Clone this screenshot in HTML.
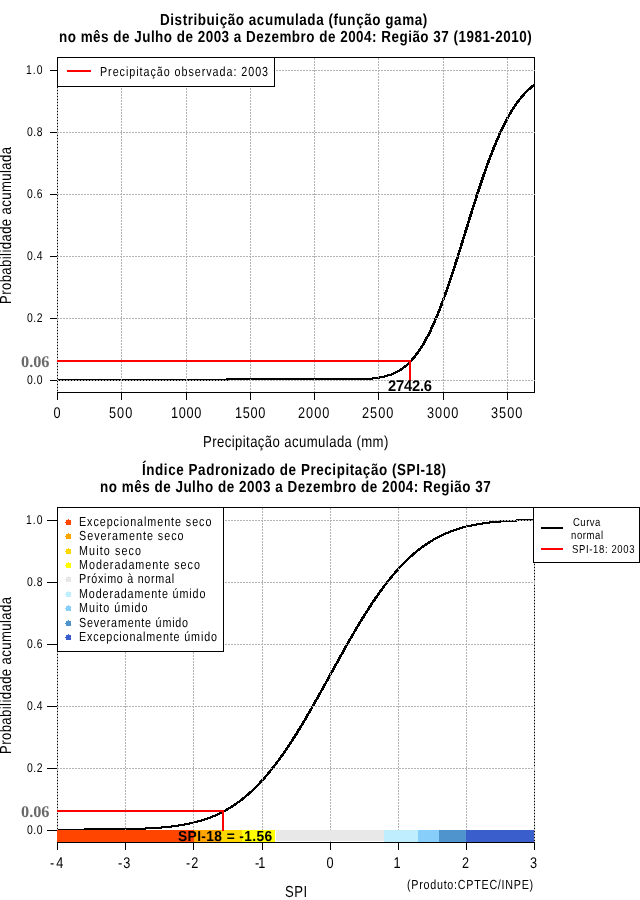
<!DOCTYPE html>
<html><head><meta charset="utf-8"><title>SPI</title>
<style>
html,body{margin:0;padding:0;background:#fff;width:640px;height:900px;overflow:hidden}
svg{display:block;will-change:transform}
text{font-family:"Liberation Sans",Arial,Helvetica,sans-serif;text-rendering:geometricPrecision}
rect,path{shape-rendering:crispEdges}
polyline{shape-rendering:crispEdges}
</style></head><body>
<svg width="640" height="900" viewBox="0 0 640 900">
<text transform="translate(160.00,25) scale(0.84,1)" font-size="16" font-weight="bold" letter-spacing="0.680">Distribuição acumulada (função gama)</text>
<text transform="translate(59.00,42) scale(0.84,1)" font-size="16" font-weight="bold" letter-spacing="0.595">no mês de Julho de 2003 a Dezembro de 2004: Região 37 (1981-2010)</text>
<polyline points="57,380.0 227,380.0 227,379.0 364,379.0 365,379.0 366,378.9 367,378.9 368,378.8 369,378.7 370,378.6 371,378.6 372,378.5 373,378.4 374,378.3 375,378.1 376,378.0 377,377.9 378,377.7 379,377.6 380,377.4 381,377.2 382,377.0 383,376.8 384,376.5 385,376.3 386,376.0 387,375.7 388,375.4 389,375.1 390,374.8 391,374.4 392,374.0 393,373.6 394,373.1 395,372.7 396,372.2 397,371.6 398,371.1 399,370.5 400,369.9 401,369.2 402,368.5 403,367.8 404,367.0 405,366.2 406,365.4 407,364.5 408,363.6 409,362.6 410,361.6 411,360.5 412,359.4 413,358.3 414,357.1 415,355.8 416,354.5 417,353.2 418,351.8 419,350.4 420,348.8 421,347.3 422,345.7 423,344.0 424,342.3 425,340.5 426,338.7 427,336.8 428,334.9 429,332.9 430,330.9 431,328.8 432,326.6 433,324.4 434,322.1 435,319.8 436,317.5 437,315.0 438,312.6 439,310.1 440,307.5 441,304.9 442,302.2 443,299.5 444,296.8 445,294.0 446,291.2 447,288.3 448,285.4 449,282.5 450,279.5 451,276.5 452,273.5 453,270.4 454,267.3 455,264.2 456,261.1 457,257.9 458,254.7 459,251.6 460,248.4 461,245.1 462,241.9 463,238.7 464,235.5 465,232.2 466,229.0 467,225.8 468,222.5 469,219.3 470,216.1 471,212.9 472,209.7 473,206.5 474,203.4 475,200.3 476,197.1 477,194.0 478,191.0 479,187.9 480,184.9 481,181.9 482,179.0 483,176.1 484,173.2 485,170.3 486,167.5 487,164.7 488,162.0 489,159.3 490,156.6 491,154.0 492,151.5 493,148.9 494,146.5 495,144.0 496,141.6 497,139.3 498,137.0 499,134.8 500,132.6 501,130.4 502,128.3 503,126.3 504,124.3 505,122.3 506,120.4 507,118.5 508,116.7 509,114.9 510,113.2 511,111.6 512,109.9 513,108.4 514,106.8 515,105.3 516,103.9 517,102.5 518,101.1 519,99.8 520,98.6 521,97.3 522,96.1 523,95.0 524,93.9 525,92.8 526,91.8 527,90.8 528,89.8 529,88.9 530,88.0 531,87.1 532,86.3 533,85.5 534,84.8" fill="none" stroke="#000" stroke-width="2" stroke-linejoin="round"/>
<polyline points="300.7,379.0 364.7,379.0 365.7,379.0 366.7,378.9 367.7,378.9 368.7,378.8 369.7,378.7 370.7,378.6 371.7,378.6 372.7,378.5 373.7,378.4 374.7,378.3 375.7,378.1 376.7,378.0 377.7,377.9 378.7,377.7 379.7,377.6 380.7,377.4 381.7,377.2 382.7,377.0 383.7,376.8 384.7,376.5 385.7,376.3 386.7,376.0 387.7,375.7 388.7,375.4 389.7,375.1 390.7,374.8 391.7,374.4 392.7,374.0 393.7,373.6 394.7,373.1 395.7,372.7 396.7,372.2 397.7,371.6 398.7,371.1 399.7,370.5 400.7,369.9 401.7,369.2 402.7,368.5 403.7,367.8 404.7,367.0 405.7,366.2 406.7,365.4 407.7,364.5 408.7,363.6 409.7,362.6 410.7,361.6 411.7,360.5 412.7,359.4 413.7,358.3 414.7,357.1 415.7,355.8 416.7,354.5 417.7,353.2 418.7,351.8 419.7,350.4 420.7,348.8 421.7,347.3 422.7,345.7 423.7,344.0 424.7,342.3 425.7,340.5 426.7,338.7 427.7,336.8 428.7,334.9 429.7,332.9 430.7,330.9 431.7,328.8 432.7,326.6 433.7,324.4 434.7,322.1 435.7,319.8 436.7,317.5 437.7,315.0 438.7,312.6 439.7,310.1 440.7,307.5 441.7,304.9 442.7,302.2 443.7,299.5 444.7,296.8 445.7,294.0 446.7,291.2 447.7,288.3 448.7,285.4 449.7,282.5 450.7,279.5 451.7,276.5 452.7,273.5 453.7,270.4 454.7,267.3 455.7,264.2 456.7,261.1 457.7,257.9 458.7,254.7 459.7,251.6 460.7,248.4 461.7,245.1 462.7,241.9 463.7,238.7 464.7,235.5 465.7,232.2 466.7,229.0 467.7,225.8 468.7,222.5 469.7,219.3 470.7,216.1 471.7,212.9 472.7,209.7 473.7,206.5 474.7,203.4 475.7,200.3 476.7,197.1 477.7,194.0 478.7,191.0 479.7,187.9 480.7,184.9 481.7,181.9 482.7,179.0 483.7,176.1 484.7,173.2 485.7,170.3 486.7,167.5 487.7,164.7 488.7,162.0 489.7,159.3 490.7,156.6 491.7,154.0 492.7,151.5 493.7,148.9 494.7,146.5 495.7,144.0 496.7,141.6 497.7,139.3 498.7,137.0 499.7,134.8 500.7,132.6 501.7,130.4 502.7,128.3 503.7,126.3 504.7,124.3 505.7,122.3 506.7,120.4 507.7,118.5 508.7,116.7 509.7,114.9 510.7,113.2 511.7,111.6 512.7,109.9 513.7,108.4 514.7,106.8 515.7,105.3 516.7,103.9 517.7,102.5 518.7,101.1 519.7,99.8 520.7,98.6 521.7,97.3 522.7,96.1 523.7,95.0 524.7,93.9 525.7,92.8 526.7,91.8 527.7,90.8 528.7,89.8 529.7,88.9 530.7,88.0 531.7,87.1 532.7,86.3 533.7,85.5 534,84.8" fill="none" stroke="#000" stroke-width="2" stroke-linejoin="round"/>
<rect x="57" y="57" width="478" height="1" fill="#000"/>
<rect x="57" y="392" width="478" height="1" fill="#000"/>
<rect x="57" y="57" width="1" height="336" fill="#000"/>
<rect x="534" y="57" width="1" height="336" fill="#000"/>
<path d="M57 380h2v1h-2zM60 380h2v1h-2zM63 380h2v1h-2zM66 380h2v1h-2zM69 380h2v1h-2zM72 380h2v1h-2zM75 380h2v1h-2zM78 380h2v1h-2zM81 380h2v1h-2zM84 380h2v1h-2zM87 380h2v1h-2zM90 380h2v1h-2zM93 380h2v1h-2zM96 380h2v1h-2zM99 380h2v1h-2zM102 380h2v1h-2zM105 380h2v1h-2zM108 380h2v1h-2zM111 380h2v1h-2zM114 380h2v1h-2zM117 380h2v1h-2zM120 380h2v1h-2zM123 380h2v1h-2zM126 380h2v1h-2zM129 380h2v1h-2zM132 380h2v1h-2zM135 380h2v1h-2zM138 380h2v1h-2zM141 380h2v1h-2zM144 380h2v1h-2zM147 380h2v1h-2zM150 380h2v1h-2zM153 380h2v1h-2zM156 380h2v1h-2zM159 380h2v1h-2zM162 380h2v1h-2zM165 380h2v1h-2zM168 380h2v1h-2zM171 380h2v1h-2zM174 380h2v1h-2zM177 380h2v1h-2zM180 380h2v1h-2zM183 380h2v1h-2zM186 380h2v1h-2zM189 380h2v1h-2zM192 380h2v1h-2zM195 380h2v1h-2zM198 380h2v1h-2zM201 380h2v1h-2zM204 380h2v1h-2zM207 380h2v1h-2zM210 380h2v1h-2zM213 380h2v1h-2zM216 380h2v1h-2zM219 380h2v1h-2zM222 380h2v1h-2zM225 380h2v1h-2zM228 380h2v1h-2zM231 380h2v1h-2zM234 380h2v1h-2zM237 380h2v1h-2zM240 380h2v1h-2zM243 380h2v1h-2zM246 380h2v1h-2zM249 380h2v1h-2zM252 380h2v1h-2zM255 380h2v1h-2zM258 380h2v1h-2zM261 380h2v1h-2zM264 380h2v1h-2zM267 380h2v1h-2zM270 380h2v1h-2zM273 380h2v1h-2zM276 380h2v1h-2zM279 380h2v1h-2zM282 380h2v1h-2zM285 380h2v1h-2zM288 380h2v1h-2zM291 380h2v1h-2zM294 380h2v1h-2zM297 380h2v1h-2zM300 380h2v1h-2zM303 380h2v1h-2zM306 380h2v1h-2zM309 380h2v1h-2zM312 380h2v1h-2zM315 380h2v1h-2zM318 380h2v1h-2zM321 380h2v1h-2zM324 380h2v1h-2zM327 380h2v1h-2zM330 380h2v1h-2zM333 380h2v1h-2zM336 380h2v1h-2zM339 380h2v1h-2zM342 380h2v1h-2zM345 380h2v1h-2zM348 380h2v1h-2zM351 380h2v1h-2zM354 380h2v1h-2zM357 380h2v1h-2zM360 380h2v1h-2zM363 380h2v1h-2zM366 380h2v1h-2zM369 380h2v1h-2zM372 380h2v1h-2zM375 380h2v1h-2zM378 380h2v1h-2zM381 380h2v1h-2zM384 380h2v1h-2zM387 380h2v1h-2zM390 380h2v1h-2zM393 380h2v1h-2zM396 380h2v1h-2zM399 380h2v1h-2zM402 380h2v1h-2zM405 380h2v1h-2zM408 380h2v1h-2zM411 380h2v1h-2zM414 380h2v1h-2zM417 380h2v1h-2zM420 380h2v1h-2zM423 380h2v1h-2zM426 380h2v1h-2zM429 380h2v1h-2zM432 380h2v1h-2zM435 380h2v1h-2zM438 380h2v1h-2zM441 380h2v1h-2zM444 380h2v1h-2zM447 380h2v1h-2zM450 380h2v1h-2zM453 380h2v1h-2zM456 380h2v1h-2zM459 380h2v1h-2zM462 380h2v1h-2zM465 380h2v1h-2zM468 380h2v1h-2zM471 380h2v1h-2zM474 380h2v1h-2zM477 380h2v1h-2zM480 380h2v1h-2zM483 380h2v1h-2zM486 380h2v1h-2zM489 380h2v1h-2zM492 380h2v1h-2zM495 380h2v1h-2zM498 380h2v1h-2zM501 380h2v1h-2zM504 380h2v1h-2zM507 380h2v1h-2zM510 380h2v1h-2zM513 380h2v1h-2zM516 380h2v1h-2zM519 380h2v1h-2zM522 380h2v1h-2zM525 380h2v1h-2zM528 380h2v1h-2zM531 380h2v1h-2zM534 380h1v1h-1z" fill="#b3b3b3"/>
<path d="M57 318h2v1h-2zM60 318h2v1h-2zM63 318h2v1h-2zM66 318h2v1h-2zM69 318h2v1h-2zM72 318h2v1h-2zM75 318h2v1h-2zM78 318h2v1h-2zM81 318h2v1h-2zM84 318h2v1h-2zM87 318h2v1h-2zM90 318h2v1h-2zM93 318h2v1h-2zM96 318h2v1h-2zM99 318h2v1h-2zM102 318h2v1h-2zM105 318h2v1h-2zM108 318h2v1h-2zM111 318h2v1h-2zM114 318h2v1h-2zM117 318h2v1h-2zM120 318h2v1h-2zM123 318h2v1h-2zM126 318h2v1h-2zM129 318h2v1h-2zM132 318h2v1h-2zM135 318h2v1h-2zM138 318h2v1h-2zM141 318h2v1h-2zM144 318h2v1h-2zM147 318h2v1h-2zM150 318h2v1h-2zM153 318h2v1h-2zM156 318h2v1h-2zM159 318h2v1h-2zM162 318h2v1h-2zM165 318h2v1h-2zM168 318h2v1h-2zM171 318h2v1h-2zM174 318h2v1h-2zM177 318h2v1h-2zM180 318h2v1h-2zM183 318h2v1h-2zM186 318h2v1h-2zM189 318h2v1h-2zM192 318h2v1h-2zM195 318h2v1h-2zM198 318h2v1h-2zM201 318h2v1h-2zM204 318h2v1h-2zM207 318h2v1h-2zM210 318h2v1h-2zM213 318h2v1h-2zM216 318h2v1h-2zM219 318h2v1h-2zM222 318h2v1h-2zM225 318h2v1h-2zM228 318h2v1h-2zM231 318h2v1h-2zM234 318h2v1h-2zM237 318h2v1h-2zM240 318h2v1h-2zM243 318h2v1h-2zM246 318h2v1h-2zM249 318h2v1h-2zM252 318h2v1h-2zM255 318h2v1h-2zM258 318h2v1h-2zM261 318h2v1h-2zM264 318h2v1h-2zM267 318h2v1h-2zM270 318h2v1h-2zM273 318h2v1h-2zM276 318h2v1h-2zM279 318h2v1h-2zM282 318h2v1h-2zM285 318h2v1h-2zM288 318h2v1h-2zM291 318h2v1h-2zM294 318h2v1h-2zM297 318h2v1h-2zM300 318h2v1h-2zM303 318h2v1h-2zM306 318h2v1h-2zM309 318h2v1h-2zM312 318h2v1h-2zM315 318h2v1h-2zM318 318h2v1h-2zM321 318h2v1h-2zM324 318h2v1h-2zM327 318h2v1h-2zM330 318h2v1h-2zM333 318h2v1h-2zM336 318h2v1h-2zM339 318h2v1h-2zM342 318h2v1h-2zM345 318h2v1h-2zM348 318h2v1h-2zM351 318h2v1h-2zM354 318h2v1h-2zM357 318h2v1h-2zM360 318h2v1h-2zM363 318h2v1h-2zM366 318h2v1h-2zM369 318h2v1h-2zM372 318h2v1h-2zM375 318h2v1h-2zM378 318h2v1h-2zM381 318h2v1h-2zM384 318h2v1h-2zM387 318h2v1h-2zM390 318h2v1h-2zM393 318h2v1h-2zM396 318h2v1h-2zM399 318h2v1h-2zM402 318h2v1h-2zM405 318h2v1h-2zM408 318h2v1h-2zM411 318h2v1h-2zM414 318h2v1h-2zM417 318h2v1h-2zM420 318h2v1h-2zM423 318h2v1h-2zM426 318h2v1h-2zM429 318h2v1h-2zM432 318h2v1h-2zM435 318h2v1h-2zM438 318h2v1h-2zM441 318h2v1h-2zM444 318h2v1h-2zM447 318h2v1h-2zM450 318h2v1h-2zM453 318h2v1h-2zM456 318h2v1h-2zM459 318h2v1h-2zM462 318h2v1h-2zM465 318h2v1h-2zM468 318h2v1h-2zM471 318h2v1h-2zM474 318h2v1h-2zM477 318h2v1h-2zM480 318h2v1h-2zM483 318h2v1h-2zM486 318h2v1h-2zM489 318h2v1h-2zM492 318h2v1h-2zM495 318h2v1h-2zM498 318h2v1h-2zM501 318h2v1h-2zM504 318h2v1h-2zM507 318h2v1h-2zM510 318h2v1h-2zM513 318h2v1h-2zM516 318h2v1h-2zM519 318h2v1h-2zM522 318h2v1h-2zM525 318h2v1h-2zM528 318h2v1h-2zM531 318h2v1h-2zM534 318h1v1h-1z" fill="#b3b3b3"/>
<path d="M57 256h2v1h-2zM60 256h2v1h-2zM63 256h2v1h-2zM66 256h2v1h-2zM69 256h2v1h-2zM72 256h2v1h-2zM75 256h2v1h-2zM78 256h2v1h-2zM81 256h2v1h-2zM84 256h2v1h-2zM87 256h2v1h-2zM90 256h2v1h-2zM93 256h2v1h-2zM96 256h2v1h-2zM99 256h2v1h-2zM102 256h2v1h-2zM105 256h2v1h-2zM108 256h2v1h-2zM111 256h2v1h-2zM114 256h2v1h-2zM117 256h2v1h-2zM120 256h2v1h-2zM123 256h2v1h-2zM126 256h2v1h-2zM129 256h2v1h-2zM132 256h2v1h-2zM135 256h2v1h-2zM138 256h2v1h-2zM141 256h2v1h-2zM144 256h2v1h-2zM147 256h2v1h-2zM150 256h2v1h-2zM153 256h2v1h-2zM156 256h2v1h-2zM159 256h2v1h-2zM162 256h2v1h-2zM165 256h2v1h-2zM168 256h2v1h-2zM171 256h2v1h-2zM174 256h2v1h-2zM177 256h2v1h-2zM180 256h2v1h-2zM183 256h2v1h-2zM186 256h2v1h-2zM189 256h2v1h-2zM192 256h2v1h-2zM195 256h2v1h-2zM198 256h2v1h-2zM201 256h2v1h-2zM204 256h2v1h-2zM207 256h2v1h-2zM210 256h2v1h-2zM213 256h2v1h-2zM216 256h2v1h-2zM219 256h2v1h-2zM222 256h2v1h-2zM225 256h2v1h-2zM228 256h2v1h-2zM231 256h2v1h-2zM234 256h2v1h-2zM237 256h2v1h-2zM240 256h2v1h-2zM243 256h2v1h-2zM246 256h2v1h-2zM249 256h2v1h-2zM252 256h2v1h-2zM255 256h2v1h-2zM258 256h2v1h-2zM261 256h2v1h-2zM264 256h2v1h-2zM267 256h2v1h-2zM270 256h2v1h-2zM273 256h2v1h-2zM276 256h2v1h-2zM279 256h2v1h-2zM282 256h2v1h-2zM285 256h2v1h-2zM288 256h2v1h-2zM291 256h2v1h-2zM294 256h2v1h-2zM297 256h2v1h-2zM300 256h2v1h-2zM303 256h2v1h-2zM306 256h2v1h-2zM309 256h2v1h-2zM312 256h2v1h-2zM315 256h2v1h-2zM318 256h2v1h-2zM321 256h2v1h-2zM324 256h2v1h-2zM327 256h2v1h-2zM330 256h2v1h-2zM333 256h2v1h-2zM336 256h2v1h-2zM339 256h2v1h-2zM342 256h2v1h-2zM345 256h2v1h-2zM348 256h2v1h-2zM351 256h2v1h-2zM354 256h2v1h-2zM357 256h2v1h-2zM360 256h2v1h-2zM363 256h2v1h-2zM366 256h2v1h-2zM369 256h2v1h-2zM372 256h2v1h-2zM375 256h2v1h-2zM378 256h2v1h-2zM381 256h2v1h-2zM384 256h2v1h-2zM387 256h2v1h-2zM390 256h2v1h-2zM393 256h2v1h-2zM396 256h2v1h-2zM399 256h2v1h-2zM402 256h2v1h-2zM405 256h2v1h-2zM408 256h2v1h-2zM411 256h2v1h-2zM414 256h2v1h-2zM417 256h2v1h-2zM420 256h2v1h-2zM423 256h2v1h-2zM426 256h2v1h-2zM429 256h2v1h-2zM432 256h2v1h-2zM435 256h2v1h-2zM438 256h2v1h-2zM441 256h2v1h-2zM444 256h2v1h-2zM447 256h2v1h-2zM450 256h2v1h-2zM453 256h2v1h-2zM456 256h2v1h-2zM459 256h2v1h-2zM462 256h2v1h-2zM465 256h2v1h-2zM468 256h2v1h-2zM471 256h2v1h-2zM474 256h2v1h-2zM477 256h2v1h-2zM480 256h2v1h-2zM483 256h2v1h-2zM486 256h2v1h-2zM489 256h2v1h-2zM492 256h2v1h-2zM495 256h2v1h-2zM498 256h2v1h-2zM501 256h2v1h-2zM504 256h2v1h-2zM507 256h2v1h-2zM510 256h2v1h-2zM513 256h2v1h-2zM516 256h2v1h-2zM519 256h2v1h-2zM522 256h2v1h-2zM525 256h2v1h-2zM528 256h2v1h-2zM531 256h2v1h-2zM534 256h1v1h-1z" fill="#b3b3b3"/>
<path d="M57 194h2v1h-2zM60 194h2v1h-2zM63 194h2v1h-2zM66 194h2v1h-2zM69 194h2v1h-2zM72 194h2v1h-2zM75 194h2v1h-2zM78 194h2v1h-2zM81 194h2v1h-2zM84 194h2v1h-2zM87 194h2v1h-2zM90 194h2v1h-2zM93 194h2v1h-2zM96 194h2v1h-2zM99 194h2v1h-2zM102 194h2v1h-2zM105 194h2v1h-2zM108 194h2v1h-2zM111 194h2v1h-2zM114 194h2v1h-2zM117 194h2v1h-2zM120 194h2v1h-2zM123 194h2v1h-2zM126 194h2v1h-2zM129 194h2v1h-2zM132 194h2v1h-2zM135 194h2v1h-2zM138 194h2v1h-2zM141 194h2v1h-2zM144 194h2v1h-2zM147 194h2v1h-2zM150 194h2v1h-2zM153 194h2v1h-2zM156 194h2v1h-2zM159 194h2v1h-2zM162 194h2v1h-2zM165 194h2v1h-2zM168 194h2v1h-2zM171 194h2v1h-2zM174 194h2v1h-2zM177 194h2v1h-2zM180 194h2v1h-2zM183 194h2v1h-2zM186 194h2v1h-2zM189 194h2v1h-2zM192 194h2v1h-2zM195 194h2v1h-2zM198 194h2v1h-2zM201 194h2v1h-2zM204 194h2v1h-2zM207 194h2v1h-2zM210 194h2v1h-2zM213 194h2v1h-2zM216 194h2v1h-2zM219 194h2v1h-2zM222 194h2v1h-2zM225 194h2v1h-2zM228 194h2v1h-2zM231 194h2v1h-2zM234 194h2v1h-2zM237 194h2v1h-2zM240 194h2v1h-2zM243 194h2v1h-2zM246 194h2v1h-2zM249 194h2v1h-2zM252 194h2v1h-2zM255 194h2v1h-2zM258 194h2v1h-2zM261 194h2v1h-2zM264 194h2v1h-2zM267 194h2v1h-2zM270 194h2v1h-2zM273 194h2v1h-2zM276 194h2v1h-2zM279 194h2v1h-2zM282 194h2v1h-2zM285 194h2v1h-2zM288 194h2v1h-2zM291 194h2v1h-2zM294 194h2v1h-2zM297 194h2v1h-2zM300 194h2v1h-2zM303 194h2v1h-2zM306 194h2v1h-2zM309 194h2v1h-2zM312 194h2v1h-2zM315 194h2v1h-2zM318 194h2v1h-2zM321 194h2v1h-2zM324 194h2v1h-2zM327 194h2v1h-2zM330 194h2v1h-2zM333 194h2v1h-2zM336 194h2v1h-2zM339 194h2v1h-2zM342 194h2v1h-2zM345 194h2v1h-2zM348 194h2v1h-2zM351 194h2v1h-2zM354 194h2v1h-2zM357 194h2v1h-2zM360 194h2v1h-2zM363 194h2v1h-2zM366 194h2v1h-2zM369 194h2v1h-2zM372 194h2v1h-2zM375 194h2v1h-2zM378 194h2v1h-2zM381 194h2v1h-2zM384 194h2v1h-2zM387 194h2v1h-2zM390 194h2v1h-2zM393 194h2v1h-2zM396 194h2v1h-2zM399 194h2v1h-2zM402 194h2v1h-2zM405 194h2v1h-2zM408 194h2v1h-2zM411 194h2v1h-2zM414 194h2v1h-2zM417 194h2v1h-2zM420 194h2v1h-2zM423 194h2v1h-2zM426 194h2v1h-2zM429 194h2v1h-2zM432 194h2v1h-2zM435 194h2v1h-2zM438 194h2v1h-2zM441 194h2v1h-2zM444 194h2v1h-2zM447 194h2v1h-2zM450 194h2v1h-2zM453 194h2v1h-2zM456 194h2v1h-2zM459 194h2v1h-2zM462 194h2v1h-2zM465 194h2v1h-2zM468 194h2v1h-2zM471 194h2v1h-2zM474 194h2v1h-2zM477 194h2v1h-2zM480 194h2v1h-2zM483 194h2v1h-2zM486 194h2v1h-2zM489 194h2v1h-2zM492 194h2v1h-2zM495 194h2v1h-2zM498 194h2v1h-2zM501 194h2v1h-2zM504 194h2v1h-2zM507 194h2v1h-2zM510 194h2v1h-2zM513 194h2v1h-2zM516 194h2v1h-2zM519 194h2v1h-2zM522 194h2v1h-2zM525 194h2v1h-2zM528 194h2v1h-2zM531 194h2v1h-2zM534 194h1v1h-1z" fill="#b3b3b3"/>
<path d="M57 132h2v1h-2zM60 132h2v1h-2zM63 132h2v1h-2zM66 132h2v1h-2zM69 132h2v1h-2zM72 132h2v1h-2zM75 132h2v1h-2zM78 132h2v1h-2zM81 132h2v1h-2zM84 132h2v1h-2zM87 132h2v1h-2zM90 132h2v1h-2zM93 132h2v1h-2zM96 132h2v1h-2zM99 132h2v1h-2zM102 132h2v1h-2zM105 132h2v1h-2zM108 132h2v1h-2zM111 132h2v1h-2zM114 132h2v1h-2zM117 132h2v1h-2zM120 132h2v1h-2zM123 132h2v1h-2zM126 132h2v1h-2zM129 132h2v1h-2zM132 132h2v1h-2zM135 132h2v1h-2zM138 132h2v1h-2zM141 132h2v1h-2zM144 132h2v1h-2zM147 132h2v1h-2zM150 132h2v1h-2zM153 132h2v1h-2zM156 132h2v1h-2zM159 132h2v1h-2zM162 132h2v1h-2zM165 132h2v1h-2zM168 132h2v1h-2zM171 132h2v1h-2zM174 132h2v1h-2zM177 132h2v1h-2zM180 132h2v1h-2zM183 132h2v1h-2zM186 132h2v1h-2zM189 132h2v1h-2zM192 132h2v1h-2zM195 132h2v1h-2zM198 132h2v1h-2zM201 132h2v1h-2zM204 132h2v1h-2zM207 132h2v1h-2zM210 132h2v1h-2zM213 132h2v1h-2zM216 132h2v1h-2zM219 132h2v1h-2zM222 132h2v1h-2zM225 132h2v1h-2zM228 132h2v1h-2zM231 132h2v1h-2zM234 132h2v1h-2zM237 132h2v1h-2zM240 132h2v1h-2zM243 132h2v1h-2zM246 132h2v1h-2zM249 132h2v1h-2zM252 132h2v1h-2zM255 132h2v1h-2zM258 132h2v1h-2zM261 132h2v1h-2zM264 132h2v1h-2zM267 132h2v1h-2zM270 132h2v1h-2zM273 132h2v1h-2zM276 132h2v1h-2zM279 132h2v1h-2zM282 132h2v1h-2zM285 132h2v1h-2zM288 132h2v1h-2zM291 132h2v1h-2zM294 132h2v1h-2zM297 132h2v1h-2zM300 132h2v1h-2zM303 132h2v1h-2zM306 132h2v1h-2zM309 132h2v1h-2zM312 132h2v1h-2zM315 132h2v1h-2zM318 132h2v1h-2zM321 132h2v1h-2zM324 132h2v1h-2zM327 132h2v1h-2zM330 132h2v1h-2zM333 132h2v1h-2zM336 132h2v1h-2zM339 132h2v1h-2zM342 132h2v1h-2zM345 132h2v1h-2zM348 132h2v1h-2zM351 132h2v1h-2zM354 132h2v1h-2zM357 132h2v1h-2zM360 132h2v1h-2zM363 132h2v1h-2zM366 132h2v1h-2zM369 132h2v1h-2zM372 132h2v1h-2zM375 132h2v1h-2zM378 132h2v1h-2zM381 132h2v1h-2zM384 132h2v1h-2zM387 132h2v1h-2zM390 132h2v1h-2zM393 132h2v1h-2zM396 132h2v1h-2zM399 132h2v1h-2zM402 132h2v1h-2zM405 132h2v1h-2zM408 132h2v1h-2zM411 132h2v1h-2zM414 132h2v1h-2zM417 132h2v1h-2zM420 132h2v1h-2zM423 132h2v1h-2zM426 132h2v1h-2zM429 132h2v1h-2zM432 132h2v1h-2zM435 132h2v1h-2zM438 132h2v1h-2zM441 132h2v1h-2zM444 132h2v1h-2zM447 132h2v1h-2zM450 132h2v1h-2zM453 132h2v1h-2zM456 132h2v1h-2zM459 132h2v1h-2zM462 132h2v1h-2zM465 132h2v1h-2zM468 132h2v1h-2zM471 132h2v1h-2zM474 132h2v1h-2zM477 132h2v1h-2zM480 132h2v1h-2zM483 132h2v1h-2zM486 132h2v1h-2zM489 132h2v1h-2zM492 132h2v1h-2zM495 132h2v1h-2zM498 132h2v1h-2zM501 132h2v1h-2zM504 132h2v1h-2zM507 132h2v1h-2zM510 132h2v1h-2zM513 132h2v1h-2zM516 132h2v1h-2zM519 132h2v1h-2zM522 132h2v1h-2zM525 132h2v1h-2zM528 132h2v1h-2zM531 132h2v1h-2zM534 132h1v1h-1z" fill="#b3b3b3"/>
<path d="M57 70h2v1h-2zM60 70h2v1h-2zM63 70h2v1h-2zM66 70h2v1h-2zM69 70h2v1h-2zM72 70h2v1h-2zM75 70h2v1h-2zM78 70h2v1h-2zM81 70h2v1h-2zM84 70h2v1h-2zM87 70h2v1h-2zM90 70h2v1h-2zM93 70h2v1h-2zM96 70h2v1h-2zM99 70h2v1h-2zM102 70h2v1h-2zM105 70h2v1h-2zM108 70h2v1h-2zM111 70h2v1h-2zM114 70h2v1h-2zM117 70h2v1h-2zM120 70h2v1h-2zM123 70h2v1h-2zM126 70h2v1h-2zM129 70h2v1h-2zM132 70h2v1h-2zM135 70h2v1h-2zM138 70h2v1h-2zM141 70h2v1h-2zM144 70h2v1h-2zM147 70h2v1h-2zM150 70h2v1h-2zM153 70h2v1h-2zM156 70h2v1h-2zM159 70h2v1h-2zM162 70h2v1h-2zM165 70h2v1h-2zM168 70h2v1h-2zM171 70h2v1h-2zM174 70h2v1h-2zM177 70h2v1h-2zM180 70h2v1h-2zM183 70h2v1h-2zM186 70h2v1h-2zM189 70h2v1h-2zM192 70h2v1h-2zM195 70h2v1h-2zM198 70h2v1h-2zM201 70h2v1h-2zM204 70h2v1h-2zM207 70h2v1h-2zM210 70h2v1h-2zM213 70h2v1h-2zM216 70h2v1h-2zM219 70h2v1h-2zM222 70h2v1h-2zM225 70h2v1h-2zM228 70h2v1h-2zM231 70h2v1h-2zM234 70h2v1h-2zM237 70h2v1h-2zM240 70h2v1h-2zM243 70h2v1h-2zM246 70h2v1h-2zM249 70h2v1h-2zM252 70h2v1h-2zM255 70h2v1h-2zM258 70h2v1h-2zM261 70h2v1h-2zM264 70h2v1h-2zM267 70h2v1h-2zM270 70h2v1h-2zM273 70h2v1h-2zM276 70h2v1h-2zM279 70h2v1h-2zM282 70h2v1h-2zM285 70h2v1h-2zM288 70h2v1h-2zM291 70h2v1h-2zM294 70h2v1h-2zM297 70h2v1h-2zM300 70h2v1h-2zM303 70h2v1h-2zM306 70h2v1h-2zM309 70h2v1h-2zM312 70h2v1h-2zM315 70h2v1h-2zM318 70h2v1h-2zM321 70h2v1h-2zM324 70h2v1h-2zM327 70h2v1h-2zM330 70h2v1h-2zM333 70h2v1h-2zM336 70h2v1h-2zM339 70h2v1h-2zM342 70h2v1h-2zM345 70h2v1h-2zM348 70h2v1h-2zM351 70h2v1h-2zM354 70h2v1h-2zM357 70h2v1h-2zM360 70h2v1h-2zM363 70h2v1h-2zM366 70h2v1h-2zM369 70h2v1h-2zM372 70h2v1h-2zM375 70h2v1h-2zM378 70h2v1h-2zM381 70h2v1h-2zM384 70h2v1h-2zM387 70h2v1h-2zM390 70h2v1h-2zM393 70h2v1h-2zM396 70h2v1h-2zM399 70h2v1h-2zM402 70h2v1h-2zM405 70h2v1h-2zM408 70h2v1h-2zM411 70h2v1h-2zM414 70h2v1h-2zM417 70h2v1h-2zM420 70h2v1h-2zM423 70h2v1h-2zM426 70h2v1h-2zM429 70h2v1h-2zM432 70h2v1h-2zM435 70h2v1h-2zM438 70h2v1h-2zM441 70h2v1h-2zM444 70h2v1h-2zM447 70h2v1h-2zM450 70h2v1h-2zM453 70h2v1h-2zM456 70h2v1h-2zM459 70h2v1h-2zM462 70h2v1h-2zM465 70h2v1h-2zM468 70h2v1h-2zM471 70h2v1h-2zM474 70h2v1h-2zM477 70h2v1h-2zM480 70h2v1h-2zM483 70h2v1h-2zM486 70h2v1h-2zM489 70h2v1h-2zM492 70h2v1h-2zM495 70h2v1h-2zM498 70h2v1h-2zM501 70h2v1h-2zM504 70h2v1h-2zM507 70h2v1h-2zM510 70h2v1h-2zM513 70h2v1h-2zM516 70h2v1h-2zM519 70h2v1h-2zM522 70h2v1h-2zM525 70h2v1h-2zM528 70h2v1h-2zM531 70h2v1h-2zM534 70h1v1h-1z" fill="#b3b3b3"/>
<path d="M57 391h1v2h-1zM57 388h1v2h-1zM57 385h1v2h-1zM57 382h1v2h-1zM57 379h1v2h-1zM57 376h1v2h-1zM57 373h1v2h-1zM57 370h1v2h-1zM57 367h1v2h-1zM57 364h1v2h-1zM57 361h1v2h-1zM57 358h1v2h-1zM57 355h1v2h-1zM57 352h1v2h-1zM57 349h1v2h-1zM57 346h1v2h-1zM57 343h1v2h-1zM57 340h1v2h-1zM57 337h1v2h-1zM57 334h1v2h-1zM57 331h1v2h-1zM57 328h1v2h-1zM57 325h1v2h-1zM57 322h1v2h-1zM57 319h1v2h-1zM57 316h1v2h-1zM57 313h1v2h-1zM57 310h1v2h-1zM57 307h1v2h-1zM57 304h1v2h-1zM57 301h1v2h-1zM57 298h1v2h-1zM57 295h1v2h-1zM57 292h1v2h-1zM57 289h1v2h-1zM57 286h1v2h-1zM57 283h1v2h-1zM57 280h1v2h-1zM57 277h1v2h-1zM57 274h1v2h-1zM57 271h1v2h-1zM57 268h1v2h-1zM57 265h1v2h-1zM57 262h1v2h-1zM57 259h1v2h-1zM57 256h1v2h-1zM57 253h1v2h-1zM57 250h1v2h-1zM57 247h1v2h-1zM57 244h1v2h-1zM57 241h1v2h-1zM57 238h1v2h-1zM57 235h1v2h-1zM57 232h1v2h-1zM57 229h1v2h-1zM57 226h1v2h-1zM57 223h1v2h-1zM57 220h1v2h-1zM57 217h1v2h-1zM57 214h1v2h-1zM57 211h1v2h-1zM57 208h1v2h-1zM57 205h1v2h-1zM57 202h1v2h-1zM57 199h1v2h-1zM57 196h1v2h-1zM57 193h1v2h-1zM57 190h1v2h-1zM57 187h1v2h-1zM57 184h1v2h-1zM57 181h1v2h-1zM57 178h1v2h-1zM57 175h1v2h-1zM57 172h1v2h-1zM57 169h1v2h-1zM57 166h1v2h-1zM57 163h1v2h-1zM57 160h1v2h-1zM57 157h1v2h-1zM57 154h1v2h-1zM57 151h1v2h-1zM57 148h1v2h-1zM57 145h1v2h-1zM57 142h1v2h-1zM57 139h1v2h-1zM57 136h1v2h-1zM57 133h1v2h-1zM57 130h1v2h-1zM57 127h1v2h-1zM57 124h1v2h-1zM57 121h1v2h-1zM57 118h1v2h-1zM57 115h1v2h-1zM57 112h1v2h-1zM57 109h1v2h-1zM57 106h1v2h-1zM57 103h1v2h-1zM57 100h1v2h-1zM57 97h1v2h-1zM57 94h1v2h-1zM57 91h1v2h-1zM57 88h1v2h-1zM57 85h1v2h-1zM57 82h1v2h-1zM57 79h1v2h-1zM57 76h1v2h-1zM57 73h1v2h-1zM57 70h1v2h-1zM57 67h1v2h-1zM57 64h1v2h-1zM57 61h1v2h-1zM57 58h1v2h-1z" fill="#b3b3b3"/>
<path d="M121 391h1v2h-1zM121 388h1v2h-1zM121 385h1v2h-1zM121 382h1v2h-1zM121 379h1v2h-1zM121 376h1v2h-1zM121 373h1v2h-1zM121 370h1v2h-1zM121 367h1v2h-1zM121 364h1v2h-1zM121 361h1v2h-1zM121 358h1v2h-1zM121 355h1v2h-1zM121 352h1v2h-1zM121 349h1v2h-1zM121 346h1v2h-1zM121 343h1v2h-1zM121 340h1v2h-1zM121 337h1v2h-1zM121 334h1v2h-1zM121 331h1v2h-1zM121 328h1v2h-1zM121 325h1v2h-1zM121 322h1v2h-1zM121 319h1v2h-1zM121 316h1v2h-1zM121 313h1v2h-1zM121 310h1v2h-1zM121 307h1v2h-1zM121 304h1v2h-1zM121 301h1v2h-1zM121 298h1v2h-1zM121 295h1v2h-1zM121 292h1v2h-1zM121 289h1v2h-1zM121 286h1v2h-1zM121 283h1v2h-1zM121 280h1v2h-1zM121 277h1v2h-1zM121 274h1v2h-1zM121 271h1v2h-1zM121 268h1v2h-1zM121 265h1v2h-1zM121 262h1v2h-1zM121 259h1v2h-1zM121 256h1v2h-1zM121 253h1v2h-1zM121 250h1v2h-1zM121 247h1v2h-1zM121 244h1v2h-1zM121 241h1v2h-1zM121 238h1v2h-1zM121 235h1v2h-1zM121 232h1v2h-1zM121 229h1v2h-1zM121 226h1v2h-1zM121 223h1v2h-1zM121 220h1v2h-1zM121 217h1v2h-1zM121 214h1v2h-1zM121 211h1v2h-1zM121 208h1v2h-1zM121 205h1v2h-1zM121 202h1v2h-1zM121 199h1v2h-1zM121 196h1v2h-1zM121 193h1v2h-1zM121 190h1v2h-1zM121 187h1v2h-1zM121 184h1v2h-1zM121 181h1v2h-1zM121 178h1v2h-1zM121 175h1v2h-1zM121 172h1v2h-1zM121 169h1v2h-1zM121 166h1v2h-1zM121 163h1v2h-1zM121 160h1v2h-1zM121 157h1v2h-1zM121 154h1v2h-1zM121 151h1v2h-1zM121 148h1v2h-1zM121 145h1v2h-1zM121 142h1v2h-1zM121 139h1v2h-1zM121 136h1v2h-1zM121 133h1v2h-1zM121 130h1v2h-1zM121 127h1v2h-1zM121 124h1v2h-1zM121 121h1v2h-1zM121 118h1v2h-1zM121 115h1v2h-1zM121 112h1v2h-1zM121 109h1v2h-1zM121 106h1v2h-1zM121 103h1v2h-1zM121 100h1v2h-1zM121 97h1v2h-1zM121 94h1v2h-1zM121 91h1v2h-1zM121 88h1v2h-1zM121 85h1v2h-1zM121 82h1v2h-1zM121 79h1v2h-1zM121 76h1v2h-1zM121 73h1v2h-1zM121 70h1v2h-1zM121 67h1v2h-1zM121 64h1v2h-1zM121 61h1v2h-1zM121 58h1v2h-1z" fill="#b3b3b3"/>
<path d="M186 391h1v2h-1zM186 388h1v2h-1zM186 385h1v2h-1zM186 382h1v2h-1zM186 379h1v2h-1zM186 376h1v2h-1zM186 373h1v2h-1zM186 370h1v2h-1zM186 367h1v2h-1zM186 364h1v2h-1zM186 361h1v2h-1zM186 358h1v2h-1zM186 355h1v2h-1zM186 352h1v2h-1zM186 349h1v2h-1zM186 346h1v2h-1zM186 343h1v2h-1zM186 340h1v2h-1zM186 337h1v2h-1zM186 334h1v2h-1zM186 331h1v2h-1zM186 328h1v2h-1zM186 325h1v2h-1zM186 322h1v2h-1zM186 319h1v2h-1zM186 316h1v2h-1zM186 313h1v2h-1zM186 310h1v2h-1zM186 307h1v2h-1zM186 304h1v2h-1zM186 301h1v2h-1zM186 298h1v2h-1zM186 295h1v2h-1zM186 292h1v2h-1zM186 289h1v2h-1zM186 286h1v2h-1zM186 283h1v2h-1zM186 280h1v2h-1zM186 277h1v2h-1zM186 274h1v2h-1zM186 271h1v2h-1zM186 268h1v2h-1zM186 265h1v2h-1zM186 262h1v2h-1zM186 259h1v2h-1zM186 256h1v2h-1zM186 253h1v2h-1zM186 250h1v2h-1zM186 247h1v2h-1zM186 244h1v2h-1zM186 241h1v2h-1zM186 238h1v2h-1zM186 235h1v2h-1zM186 232h1v2h-1zM186 229h1v2h-1zM186 226h1v2h-1zM186 223h1v2h-1zM186 220h1v2h-1zM186 217h1v2h-1zM186 214h1v2h-1zM186 211h1v2h-1zM186 208h1v2h-1zM186 205h1v2h-1zM186 202h1v2h-1zM186 199h1v2h-1zM186 196h1v2h-1zM186 193h1v2h-1zM186 190h1v2h-1zM186 187h1v2h-1zM186 184h1v2h-1zM186 181h1v2h-1zM186 178h1v2h-1zM186 175h1v2h-1zM186 172h1v2h-1zM186 169h1v2h-1zM186 166h1v2h-1zM186 163h1v2h-1zM186 160h1v2h-1zM186 157h1v2h-1zM186 154h1v2h-1zM186 151h1v2h-1zM186 148h1v2h-1zM186 145h1v2h-1zM186 142h1v2h-1zM186 139h1v2h-1zM186 136h1v2h-1zM186 133h1v2h-1zM186 130h1v2h-1zM186 127h1v2h-1zM186 124h1v2h-1zM186 121h1v2h-1zM186 118h1v2h-1zM186 115h1v2h-1zM186 112h1v2h-1zM186 109h1v2h-1zM186 106h1v2h-1zM186 103h1v2h-1zM186 100h1v2h-1zM186 97h1v2h-1zM186 94h1v2h-1zM186 91h1v2h-1zM186 88h1v2h-1zM186 85h1v2h-1zM186 82h1v2h-1zM186 79h1v2h-1zM186 76h1v2h-1zM186 73h1v2h-1zM186 70h1v2h-1zM186 67h1v2h-1zM186 64h1v2h-1zM186 61h1v2h-1zM186 58h1v2h-1z" fill="#b3b3b3"/>
<path d="M250 391h1v2h-1zM250 388h1v2h-1zM250 385h1v2h-1zM250 382h1v2h-1zM250 379h1v2h-1zM250 376h1v2h-1zM250 373h1v2h-1zM250 370h1v2h-1zM250 367h1v2h-1zM250 364h1v2h-1zM250 361h1v2h-1zM250 358h1v2h-1zM250 355h1v2h-1zM250 352h1v2h-1zM250 349h1v2h-1zM250 346h1v2h-1zM250 343h1v2h-1zM250 340h1v2h-1zM250 337h1v2h-1zM250 334h1v2h-1zM250 331h1v2h-1zM250 328h1v2h-1zM250 325h1v2h-1zM250 322h1v2h-1zM250 319h1v2h-1zM250 316h1v2h-1zM250 313h1v2h-1zM250 310h1v2h-1zM250 307h1v2h-1zM250 304h1v2h-1zM250 301h1v2h-1zM250 298h1v2h-1zM250 295h1v2h-1zM250 292h1v2h-1zM250 289h1v2h-1zM250 286h1v2h-1zM250 283h1v2h-1zM250 280h1v2h-1zM250 277h1v2h-1zM250 274h1v2h-1zM250 271h1v2h-1zM250 268h1v2h-1zM250 265h1v2h-1zM250 262h1v2h-1zM250 259h1v2h-1zM250 256h1v2h-1zM250 253h1v2h-1zM250 250h1v2h-1zM250 247h1v2h-1zM250 244h1v2h-1zM250 241h1v2h-1zM250 238h1v2h-1zM250 235h1v2h-1zM250 232h1v2h-1zM250 229h1v2h-1zM250 226h1v2h-1zM250 223h1v2h-1zM250 220h1v2h-1zM250 217h1v2h-1zM250 214h1v2h-1zM250 211h1v2h-1zM250 208h1v2h-1zM250 205h1v2h-1zM250 202h1v2h-1zM250 199h1v2h-1zM250 196h1v2h-1zM250 193h1v2h-1zM250 190h1v2h-1zM250 187h1v2h-1zM250 184h1v2h-1zM250 181h1v2h-1zM250 178h1v2h-1zM250 175h1v2h-1zM250 172h1v2h-1zM250 169h1v2h-1zM250 166h1v2h-1zM250 163h1v2h-1zM250 160h1v2h-1zM250 157h1v2h-1zM250 154h1v2h-1zM250 151h1v2h-1zM250 148h1v2h-1zM250 145h1v2h-1zM250 142h1v2h-1zM250 139h1v2h-1zM250 136h1v2h-1zM250 133h1v2h-1zM250 130h1v2h-1zM250 127h1v2h-1zM250 124h1v2h-1zM250 121h1v2h-1zM250 118h1v2h-1zM250 115h1v2h-1zM250 112h1v2h-1zM250 109h1v2h-1zM250 106h1v2h-1zM250 103h1v2h-1zM250 100h1v2h-1zM250 97h1v2h-1zM250 94h1v2h-1zM250 91h1v2h-1zM250 88h1v2h-1zM250 85h1v2h-1zM250 82h1v2h-1zM250 79h1v2h-1zM250 76h1v2h-1zM250 73h1v2h-1zM250 70h1v2h-1zM250 67h1v2h-1zM250 64h1v2h-1zM250 61h1v2h-1zM250 58h1v2h-1z" fill="#b3b3b3"/>
<path d="M314 391h1v2h-1zM314 388h1v2h-1zM314 385h1v2h-1zM314 382h1v2h-1zM314 379h1v2h-1zM314 376h1v2h-1zM314 373h1v2h-1zM314 370h1v2h-1zM314 367h1v2h-1zM314 364h1v2h-1zM314 361h1v2h-1zM314 358h1v2h-1zM314 355h1v2h-1zM314 352h1v2h-1zM314 349h1v2h-1zM314 346h1v2h-1zM314 343h1v2h-1zM314 340h1v2h-1zM314 337h1v2h-1zM314 334h1v2h-1zM314 331h1v2h-1zM314 328h1v2h-1zM314 325h1v2h-1zM314 322h1v2h-1zM314 319h1v2h-1zM314 316h1v2h-1zM314 313h1v2h-1zM314 310h1v2h-1zM314 307h1v2h-1zM314 304h1v2h-1zM314 301h1v2h-1zM314 298h1v2h-1zM314 295h1v2h-1zM314 292h1v2h-1zM314 289h1v2h-1zM314 286h1v2h-1zM314 283h1v2h-1zM314 280h1v2h-1zM314 277h1v2h-1zM314 274h1v2h-1zM314 271h1v2h-1zM314 268h1v2h-1zM314 265h1v2h-1zM314 262h1v2h-1zM314 259h1v2h-1zM314 256h1v2h-1zM314 253h1v2h-1zM314 250h1v2h-1zM314 247h1v2h-1zM314 244h1v2h-1zM314 241h1v2h-1zM314 238h1v2h-1zM314 235h1v2h-1zM314 232h1v2h-1zM314 229h1v2h-1zM314 226h1v2h-1zM314 223h1v2h-1zM314 220h1v2h-1zM314 217h1v2h-1zM314 214h1v2h-1zM314 211h1v2h-1zM314 208h1v2h-1zM314 205h1v2h-1zM314 202h1v2h-1zM314 199h1v2h-1zM314 196h1v2h-1zM314 193h1v2h-1zM314 190h1v2h-1zM314 187h1v2h-1zM314 184h1v2h-1zM314 181h1v2h-1zM314 178h1v2h-1zM314 175h1v2h-1zM314 172h1v2h-1zM314 169h1v2h-1zM314 166h1v2h-1zM314 163h1v2h-1zM314 160h1v2h-1zM314 157h1v2h-1zM314 154h1v2h-1zM314 151h1v2h-1zM314 148h1v2h-1zM314 145h1v2h-1zM314 142h1v2h-1zM314 139h1v2h-1zM314 136h1v2h-1zM314 133h1v2h-1zM314 130h1v2h-1zM314 127h1v2h-1zM314 124h1v2h-1zM314 121h1v2h-1zM314 118h1v2h-1zM314 115h1v2h-1zM314 112h1v2h-1zM314 109h1v2h-1zM314 106h1v2h-1zM314 103h1v2h-1zM314 100h1v2h-1zM314 97h1v2h-1zM314 94h1v2h-1zM314 91h1v2h-1zM314 88h1v2h-1zM314 85h1v2h-1zM314 82h1v2h-1zM314 79h1v2h-1zM314 76h1v2h-1zM314 73h1v2h-1zM314 70h1v2h-1zM314 67h1v2h-1zM314 64h1v2h-1zM314 61h1v2h-1zM314 58h1v2h-1z" fill="#b3b3b3"/>
<path d="M378 391h1v2h-1zM378 388h1v2h-1zM378 385h1v2h-1zM378 382h1v2h-1zM378 379h1v2h-1zM378 376h1v2h-1zM378 373h1v2h-1zM378 370h1v2h-1zM378 367h1v2h-1zM378 364h1v2h-1zM378 361h1v2h-1zM378 358h1v2h-1zM378 355h1v2h-1zM378 352h1v2h-1zM378 349h1v2h-1zM378 346h1v2h-1zM378 343h1v2h-1zM378 340h1v2h-1zM378 337h1v2h-1zM378 334h1v2h-1zM378 331h1v2h-1zM378 328h1v2h-1zM378 325h1v2h-1zM378 322h1v2h-1zM378 319h1v2h-1zM378 316h1v2h-1zM378 313h1v2h-1zM378 310h1v2h-1zM378 307h1v2h-1zM378 304h1v2h-1zM378 301h1v2h-1zM378 298h1v2h-1zM378 295h1v2h-1zM378 292h1v2h-1zM378 289h1v2h-1zM378 286h1v2h-1zM378 283h1v2h-1zM378 280h1v2h-1zM378 277h1v2h-1zM378 274h1v2h-1zM378 271h1v2h-1zM378 268h1v2h-1zM378 265h1v2h-1zM378 262h1v2h-1zM378 259h1v2h-1zM378 256h1v2h-1zM378 253h1v2h-1zM378 250h1v2h-1zM378 247h1v2h-1zM378 244h1v2h-1zM378 241h1v2h-1zM378 238h1v2h-1zM378 235h1v2h-1zM378 232h1v2h-1zM378 229h1v2h-1zM378 226h1v2h-1zM378 223h1v2h-1zM378 220h1v2h-1zM378 217h1v2h-1zM378 214h1v2h-1zM378 211h1v2h-1zM378 208h1v2h-1zM378 205h1v2h-1zM378 202h1v2h-1zM378 199h1v2h-1zM378 196h1v2h-1zM378 193h1v2h-1zM378 190h1v2h-1zM378 187h1v2h-1zM378 184h1v2h-1zM378 181h1v2h-1zM378 178h1v2h-1zM378 175h1v2h-1zM378 172h1v2h-1zM378 169h1v2h-1zM378 166h1v2h-1zM378 163h1v2h-1zM378 160h1v2h-1zM378 157h1v2h-1zM378 154h1v2h-1zM378 151h1v2h-1zM378 148h1v2h-1zM378 145h1v2h-1zM378 142h1v2h-1zM378 139h1v2h-1zM378 136h1v2h-1zM378 133h1v2h-1zM378 130h1v2h-1zM378 127h1v2h-1zM378 124h1v2h-1zM378 121h1v2h-1zM378 118h1v2h-1zM378 115h1v2h-1zM378 112h1v2h-1zM378 109h1v2h-1zM378 106h1v2h-1zM378 103h1v2h-1zM378 100h1v2h-1zM378 97h1v2h-1zM378 94h1v2h-1zM378 91h1v2h-1zM378 88h1v2h-1zM378 85h1v2h-1zM378 82h1v2h-1zM378 79h1v2h-1zM378 76h1v2h-1zM378 73h1v2h-1zM378 70h1v2h-1zM378 67h1v2h-1zM378 64h1v2h-1zM378 61h1v2h-1zM378 58h1v2h-1z" fill="#b3b3b3"/>
<path d="M443 391h1v2h-1zM443 388h1v2h-1zM443 385h1v2h-1zM443 382h1v2h-1zM443 379h1v2h-1zM443 376h1v2h-1zM443 373h1v2h-1zM443 370h1v2h-1zM443 367h1v2h-1zM443 364h1v2h-1zM443 361h1v2h-1zM443 358h1v2h-1zM443 355h1v2h-1zM443 352h1v2h-1zM443 349h1v2h-1zM443 346h1v2h-1zM443 343h1v2h-1zM443 340h1v2h-1zM443 337h1v2h-1zM443 334h1v2h-1zM443 331h1v2h-1zM443 328h1v2h-1zM443 325h1v2h-1zM443 322h1v2h-1zM443 319h1v2h-1zM443 316h1v2h-1zM443 313h1v2h-1zM443 310h1v2h-1zM443 307h1v2h-1zM443 304h1v2h-1zM443 301h1v2h-1zM443 298h1v2h-1zM443 295h1v2h-1zM443 292h1v2h-1zM443 289h1v2h-1zM443 286h1v2h-1zM443 283h1v2h-1zM443 280h1v2h-1zM443 277h1v2h-1zM443 274h1v2h-1zM443 271h1v2h-1zM443 268h1v2h-1zM443 265h1v2h-1zM443 262h1v2h-1zM443 259h1v2h-1zM443 256h1v2h-1zM443 253h1v2h-1zM443 250h1v2h-1zM443 247h1v2h-1zM443 244h1v2h-1zM443 241h1v2h-1zM443 238h1v2h-1zM443 235h1v2h-1zM443 232h1v2h-1zM443 229h1v2h-1zM443 226h1v2h-1zM443 223h1v2h-1zM443 220h1v2h-1zM443 217h1v2h-1zM443 214h1v2h-1zM443 211h1v2h-1zM443 208h1v2h-1zM443 205h1v2h-1zM443 202h1v2h-1zM443 199h1v2h-1zM443 196h1v2h-1zM443 193h1v2h-1zM443 190h1v2h-1zM443 187h1v2h-1zM443 184h1v2h-1zM443 181h1v2h-1zM443 178h1v2h-1zM443 175h1v2h-1zM443 172h1v2h-1zM443 169h1v2h-1zM443 166h1v2h-1zM443 163h1v2h-1zM443 160h1v2h-1zM443 157h1v2h-1zM443 154h1v2h-1zM443 151h1v2h-1zM443 148h1v2h-1zM443 145h1v2h-1zM443 142h1v2h-1zM443 139h1v2h-1zM443 136h1v2h-1zM443 133h1v2h-1zM443 130h1v2h-1zM443 127h1v2h-1zM443 124h1v2h-1zM443 121h1v2h-1zM443 118h1v2h-1zM443 115h1v2h-1zM443 112h1v2h-1zM443 109h1v2h-1zM443 106h1v2h-1zM443 103h1v2h-1zM443 100h1v2h-1zM443 97h1v2h-1zM443 94h1v2h-1zM443 91h1v2h-1zM443 88h1v2h-1zM443 85h1v2h-1zM443 82h1v2h-1zM443 79h1v2h-1zM443 76h1v2h-1zM443 73h1v2h-1zM443 70h1v2h-1zM443 67h1v2h-1zM443 64h1v2h-1zM443 61h1v2h-1zM443 58h1v2h-1z" fill="#b3b3b3"/>
<path d="M507 391h1v2h-1zM507 388h1v2h-1zM507 385h1v2h-1zM507 382h1v2h-1zM507 379h1v2h-1zM507 376h1v2h-1zM507 373h1v2h-1zM507 370h1v2h-1zM507 367h1v2h-1zM507 364h1v2h-1zM507 361h1v2h-1zM507 358h1v2h-1zM507 355h1v2h-1zM507 352h1v2h-1zM507 349h1v2h-1zM507 346h1v2h-1zM507 343h1v2h-1zM507 340h1v2h-1zM507 337h1v2h-1zM507 334h1v2h-1zM507 331h1v2h-1zM507 328h1v2h-1zM507 325h1v2h-1zM507 322h1v2h-1zM507 319h1v2h-1zM507 316h1v2h-1zM507 313h1v2h-1zM507 310h1v2h-1zM507 307h1v2h-1zM507 304h1v2h-1zM507 301h1v2h-1zM507 298h1v2h-1zM507 295h1v2h-1zM507 292h1v2h-1zM507 289h1v2h-1zM507 286h1v2h-1zM507 283h1v2h-1zM507 280h1v2h-1zM507 277h1v2h-1zM507 274h1v2h-1zM507 271h1v2h-1zM507 268h1v2h-1zM507 265h1v2h-1zM507 262h1v2h-1zM507 259h1v2h-1zM507 256h1v2h-1zM507 253h1v2h-1zM507 250h1v2h-1zM507 247h1v2h-1zM507 244h1v2h-1zM507 241h1v2h-1zM507 238h1v2h-1zM507 235h1v2h-1zM507 232h1v2h-1zM507 229h1v2h-1zM507 226h1v2h-1zM507 223h1v2h-1zM507 220h1v2h-1zM507 217h1v2h-1zM507 214h1v2h-1zM507 211h1v2h-1zM507 208h1v2h-1zM507 205h1v2h-1zM507 202h1v2h-1zM507 199h1v2h-1zM507 196h1v2h-1zM507 193h1v2h-1zM507 190h1v2h-1zM507 187h1v2h-1zM507 184h1v2h-1zM507 181h1v2h-1zM507 178h1v2h-1zM507 175h1v2h-1zM507 172h1v2h-1zM507 169h1v2h-1zM507 166h1v2h-1zM507 163h1v2h-1zM507 160h1v2h-1zM507 157h1v2h-1zM507 154h1v2h-1zM507 151h1v2h-1zM507 148h1v2h-1zM507 145h1v2h-1zM507 142h1v2h-1zM507 139h1v2h-1zM507 136h1v2h-1zM507 133h1v2h-1zM507 130h1v2h-1zM507 127h1v2h-1zM507 124h1v2h-1zM507 121h1v2h-1zM507 118h1v2h-1zM507 115h1v2h-1zM507 112h1v2h-1zM507 109h1v2h-1zM507 106h1v2h-1zM507 103h1v2h-1zM507 100h1v2h-1zM507 97h1v2h-1zM507 94h1v2h-1zM507 91h1v2h-1zM507 88h1v2h-1zM507 85h1v2h-1zM507 82h1v2h-1zM507 79h1v2h-1zM507 76h1v2h-1zM507 73h1v2h-1zM507 70h1v2h-1zM507 67h1v2h-1zM507 64h1v2h-1zM507 61h1v2h-1zM507 58h1v2h-1z" fill="#b3b3b3"/>
<rect x="57" y="360" width="354" height="2" fill="#ff0000"/>
<rect x="409" y="360" width="2" height="21" fill="#ff0000"/>
<rect x="57.5" y="57.5" width="217" height="29" fill="#fff" stroke="#000" stroke-width="1"/>
<rect x="67" y="70" width="24" height="2" fill="#ff0000"/>
<text transform="translate(100.00,76) scale(0.82,1)" font-size="13.1" letter-spacing="1.174">Precipitação observada: 2003</text>
<rect x="50" y="380" width="7" height="1" fill="#000"/>
<text transform="translate(27.00,384) scale(0.82,1)" font-size="12.7" letter-spacing="0.610">0.0</text>
<rect x="50" y="318" width="7" height="1" fill="#000"/>
<text transform="translate(27.00,322) scale(0.82,1)" font-size="12.7" letter-spacing="0.610">0.2</text>
<rect x="50" y="256" width="7" height="1" fill="#000"/>
<text transform="translate(27.00,260) scale(0.82,1)" font-size="12.7" letter-spacing="0.610">0.4</text>
<rect x="50" y="194" width="7" height="1" fill="#000"/>
<text transform="translate(27.00,198) scale(0.82,1)" font-size="12.7" letter-spacing="0.610">0.6</text>
<rect x="50" y="132" width="7" height="1" fill="#000"/>
<text transform="translate(27.00,136) scale(0.82,1)" font-size="12.7" letter-spacing="0.610">0.8</text>
<rect x="50" y="70" width="7" height="1" fill="#000"/>
<text transform="translate(26.00,74) scale(0.82,1)" font-size="12.7" letter-spacing="1.220">1.0</text>
<rect x="57" y="392" width="1" height="8" fill="#000"/>
<text transform="translate(53.50,418) scale(0.82,1)" font-size="15.5" letter-spacing="-1.220">0</text>
<rect x="121" y="392" width="1" height="8" fill="#000"/>
<text transform="translate(109.00,418) scale(0.82,1)" font-size="15.5" letter-spacing="1.220">500</text>
<rect x="186" y="392" width="1" height="8" fill="#000"/>
<text transform="translate(171.00,418) scale(0.82,1)" font-size="15.5" letter-spacing="0.813">1000</text>
<rect x="250" y="392" width="1" height="8" fill="#000"/>
<text transform="translate(235.00,418) scale(0.82,1)" font-size="15.5" letter-spacing="0.813">1500</text>
<rect x="314" y="392" width="1" height="8" fill="#000"/>
<text transform="translate(298.00,418) scale(0.82,1)" font-size="15.5" letter-spacing="1.220">2000</text>
<rect x="378" y="392" width="1" height="8" fill="#000"/>
<text transform="translate(362.00,418) scale(0.82,1)" font-size="15.5" letter-spacing="1.220">2500</text>
<rect x="443" y="392" width="1" height="8" fill="#000"/>
<text transform="translate(427.00,418) scale(0.82,1)" font-size="15.5" letter-spacing="1.220">3000</text>
<rect x="507" y="392" width="1" height="8" fill="#000"/>
<text transform="translate(491.00,418) scale(0.82,1)" font-size="15.5" letter-spacing="1.220">3500</text>
<text transform="translate(203.00,447) scale(0.82,1)" font-size="16" letter-spacing="0.516">Precipitação acumulada (mm)</text>
<text transform="translate(11,304.00) rotate(-90) scale(0.82,1)" font-size="16" letter-spacing="0.499">Probabilidade acumulada</text>
<text transform="translate(21.00,367)" font-size="16.3" font-weight="bold" fill="#6a6a6a" style="font-family:&quot;Liberation Serif&quot;,&quot;Times New Roman&quot;,serif">0.06</text>
<text transform="translate(388.00,391) scale(0.95,1)" font-size="15.5" font-weight="bold" letter-spacing="-0.211">2742.6</text>
<text transform="translate(142.00,475) scale(0.84,1)" font-size="16" font-weight="bold" letter-spacing="0.680">Índice Padronizado de Precipitação (SPI-18)</text>
<text transform="translate(100.00,492) scale(0.84,1)" font-size="16" font-weight="bold" letter-spacing="0.618">no mês de Julho de 2003 a Dezembro de 2004: Região 37</text>
<polyline points="57,829.5 58,829.5 59,829.5 60,829.5 61,829.5 62,829.5 63,829.5 64,829.5 65,829.5 66,829.5 67,829.5 68,829.5 69,829.5 70,829.5 71,829.5 72,829.5 73,829.5 74,829.5 75,829.5 76,829.5 77,829.5 78,829.5 79,829.5 80,829.5 81,829.5 82,829.5 83,829.5 84,829.5 85,829.4 86,829.4 87,829.4 88,829.4 89,829.4 90,829.4 91,829.4 92,829.4 93,829.4 94,829.4 95,829.4 96,829.4 97,829.4 98,829.4 99,829.4 100,829.4 101,829.4 102,829.4 103,829.4 104,829.4 105,829.4 106,829.3 107,829.3 108,829.3 109,829.3 110,829.3 111,829.3 112,829.3 113,829.3 114,829.3 115,829.3 116,829.2 117,829.2 118,829.2 119,829.2 120,829.2 121,829.2 122,829.1 123,829.1 124,829.1 125,829.1 126,829.1 127,829.1 128,829.0 129,829.0 130,829.0 131,829.0 132,828.9 133,828.9 134,828.9 135,828.8 136,828.8 137,828.8 138,828.8 139,828.7 140,828.7 141,828.6 142,828.6 143,828.6 144,828.5 145,828.5 146,828.4 147,828.4 148,828.3 149,828.3 150,828.2 151,828.2 152,828.1 153,828.0 154,828.0 155,827.9 156,827.9 157,827.8 158,827.7 159,827.6 160,827.6 161,827.5 162,827.4 163,827.3 164,827.2 165,827.1 166,827.0 167,826.9 168,826.8 169,826.7 170,826.6 171,826.5 172,826.3 173,826.2 174,826.1 175,826.0 176,825.8 177,825.7 178,825.5 179,825.4 180,825.2 181,825.1 182,824.9 183,824.7 184,824.5 185,824.3 186,824.2 187,824.0 188,823.8 189,823.5 190,823.3 191,823.1 192,822.9 193,822.6 194,822.4 195,822.1 196,821.9 197,821.6 198,821.3 199,821.1 200,820.8 201,820.5 202,820.2 203,819.9 204,819.5 205,819.2 206,818.9 207,818.5 208,818.1 209,817.8 210,817.4 211,817.0 212,816.6 213,816.2 214,815.8 215,815.4 216,814.9 217,814.5 218,814.0 219,813.5 220,813.0 221,812.5 222,812.0 223,811.5 224,811.0 225,810.4 226,809.9 227,809.3 228,808.7 229,808.1 230,807.5 231,806.9 232,806.2 233,805.6 234,804.9 235,804.2 236,803.5 237,802.8 238,802.1 239,801.4 240,800.6 241,799.9 242,799.1 243,798.3 244,797.5 245,796.7 246,795.8 247,795.0 248,794.1 249,793.2 250,792.3 251,791.4 252,790.5 253,789.5 254,788.5 255,787.6 256,786.6 257,785.5 258,784.5 259,783.5 260,782.4 261,781.3 262,780.2 263,779.1 264,778.0 265,776.9 266,775.7 267,774.5 268,773.3 269,772.1 270,770.9 271,769.7 272,768.4 273,767.1 274,765.9 275,764.6 276,763.2 277,761.9 278,760.6 279,759.2 280,757.8 281,756.4 282,755.0 283,753.6 284,752.2 285,750.7 286,749.2 287,747.8 288,746.3 289,744.8 290,743.2 291,741.7 292,740.2 293,738.6 294,737.0 295,735.4 296,733.9 297,732.2 298,730.6 299,729.0 300,727.4 301,725.7 302,724.0 303,722.4 304,720.7 305,719.0 306,717.3 307,715.6 308,713.9 309,712.1 310,710.4 311,708.7 312,706.9 313,705.2 314,703.4 315,701.6 316,699.9 317,698.1 318,696.3 319,694.5 320,692.7 321,690.9 322,689.1 323,687.3 324,685.5 325,683.7 326,681.9 327,680.1 328,678.3 329,676.4 330,674.6 331,672.8 332,671.0 333,669.2 334,667.4 335,665.6 336,663.8 337,661.9 338,660.1 339,658.3 340,656.5 341,654.8 342,653.0 343,651.2 344,649.4 345,647.6 346,645.9 347,644.1 348,642.3 349,640.6 350,638.8 351,637.1 352,635.4 353,633.7 354,631.9 355,630.2 356,628.6 357,626.9 358,625.2 359,623.5 360,621.9 361,620.2 362,618.6 363,617.0 364,615.4 365,613.8 366,612.2 367,610.6 368,609.1 369,607.5 370,606.0 371,604.5 372,602.9 373,601.4 374,600.0 375,598.5 376,597.0 377,595.6 378,594.2 379,592.8 380,591.4 381,590.0 382,588.6 383,587.3 384,585.9 385,584.6 386,583.3 387,582.0 388,580.8 389,579.5 390,578.3 391,577.0 392,575.8 393,574.6 394,573.5 395,572.3 396,571.2 397,570.0 398,568.9 399,567.8 400,566.7 401,565.7 402,564.6 403,563.6 404,562.6 405,561.6 406,560.6 407,559.6 408,558.7 409,557.7 410,556.8 411,555.9 412,555.0 413,554.2 414,553.3 415,552.5 416,551.6 417,550.8 418,550.0 419,549.2 420,548.5 421,547.7 422,547.0 423,546.3 424,545.6 425,544.9 426,544.2 427,543.5 428,542.9 429,542.2 430,541.6 431,541.0 432,540.4 433,539.8 434,539.2 435,538.7 436,538.1 437,537.6 438,537.1 439,536.5 440,536.0 441,535.6 442,535.1 443,534.6 444,534.2 445,533.7 446,533.3 447,532.9 448,532.4 449,532.0 450,531.7 451,531.3 452,530.9 453,530.5 454,530.2 455,529.8 456,529.5 457,529.2 458,528.9 459,528.6 460,528.3 461,528.0 462,527.7 463,527.4 464,527.2 465,526.9 466,526.6 467,526.4 468,526.2 469,525.9 470,525.7 471,525.5 472,525.3 473,525.1 474,524.9 475,524.7 476,524.5 477,524.3 478,524.1 479,524.0 480,523.8 481,523.6 482,523.5 483,523.3 484,523.2 485,523.1 486,522.9 487,522.8 488,522.7 489,522.6 490,522.4 491,522.3 492,522.2 493,522.1 494,522.0 495,521.9 496,521.8 497,521.7 498,521.6 499,521.5 500,521.5 501,521.4 502,521.3 503,521.2 504,521.2 505,521.1 506,521.0 507,521.0 508,520.9 509,520.8 510,520.8 511,520.7 512,520.7 513,520.6 514,520.6 515,520.5 516,520.5 517,520.4 518,520.4 519,520.4 520,520.3 521,520.3 522,520.3 523,520.2 524,520.2 525,520.2 526,520.1 527,520.1 528,520.1 529,520.0 530,520.0 531,520.0 532,520.0 533,519.9 534,519.9" fill="none" stroke="#000" stroke-width="2" stroke-linejoin="round"/>
<polyline points="57.7,829.5 58.7,829.5 59.7,829.5 60.7,829.5 61.7,829.5 62.7,829.5 63.7,829.5 64.7,829.5 65.7,829.5 66.7,829.5 67.7,829.5 68.7,829.5 69.7,829.5 70.7,829.5 71.7,829.5 72.7,829.5 73.7,829.5 74.7,829.5 75.7,829.5 76.7,829.5 77.7,829.5 78.7,829.5 79.7,829.5 80.7,829.5 81.7,829.5 82.7,829.5 83.7,829.5 84.7,829.5 85.7,829.4 86.7,829.4 87.7,829.4 88.7,829.4 89.7,829.4 90.7,829.4 91.7,829.4 92.7,829.4 93.7,829.4 94.7,829.4 95.7,829.4 96.7,829.4 97.7,829.4 98.7,829.4 99.7,829.4 100.7,829.4 101.7,829.4 102.7,829.4 103.7,829.4 104.7,829.4 105.7,829.4 106.7,829.3 107.7,829.3 108.7,829.3 109.7,829.3 110.7,829.3 111.7,829.3 112.7,829.3 113.7,829.3 114.7,829.3 115.7,829.3 116.7,829.2 117.7,829.2 118.7,829.2 119.7,829.2 120.7,829.2 121.7,829.2 122.7,829.1 123.7,829.1 124.7,829.1 125.7,829.1 126.7,829.1 127.7,829.1 128.7,829.0 129.7,829.0 130.7,829.0 131.7,829.0 132.7,828.9 133.7,828.9 134.7,828.9 135.7,828.8 136.7,828.8 137.7,828.8 138.7,828.8 139.7,828.7 140.7,828.7 141.7,828.6 142.7,828.6 143.7,828.6 144.7,828.5 145.7,828.5 146.7,828.4 147.7,828.4 148.7,828.3 149.7,828.3 150.7,828.2 151.7,828.2 152.7,828.1 153.7,828.0 154.7,828.0 155.7,827.9 156.7,827.9 157.7,827.8 158.7,827.7 159.7,827.6 160.7,827.6 161.7,827.5 162.7,827.4 163.7,827.3 164.7,827.2 165.7,827.1 166.7,827.0 167.7,826.9 168.7,826.8 169.7,826.7 170.7,826.6 171.7,826.5 172.7,826.3 173.7,826.2 174.7,826.1 175.7,826.0 176.7,825.8 177.7,825.7 178.7,825.5 179.7,825.4 180.7,825.2 181.7,825.1 182.7,824.9 183.7,824.7 184.7,824.5 185.7,824.3 186.7,824.2 187.7,824.0 188.7,823.8 189.7,823.5 190.7,823.3 191.7,823.1 192.7,822.9 193.7,822.6 194.7,822.4 195.7,822.1 196.7,821.9 197.7,821.6 198.7,821.3 199.7,821.1 200.7,820.8 201.7,820.5 202.7,820.2 203.7,819.9 204.7,819.5 205.7,819.2 206.7,818.9 207.7,818.5 208.7,818.1 209.7,817.8 210.7,817.4 211.7,817.0 212.7,816.6 213.7,816.2 214.7,815.8 215.7,815.4 216.7,814.9 217.7,814.5 218.7,814.0 219.7,813.5 220.7,813.0 221.7,812.5 222.7,812.0 223.7,811.5 224.7,811.0 225.7,810.4 226.7,809.9 227.7,809.3 228.7,808.7 229.7,808.1 230.7,807.5 231.7,806.9 232.7,806.2 233.7,805.6 234.7,804.9 235.7,804.2 236.7,803.5 237.7,802.8 238.7,802.1 239.7,801.4 240.7,800.6 241.7,799.9 242.7,799.1 243.7,798.3 244.7,797.5 245.7,796.7 246.7,795.8 247.7,795.0 248.7,794.1 249.7,793.2 250.7,792.3 251.7,791.4 252.7,790.5 253.7,789.5 254.7,788.5 255.7,787.6 256.7,786.6 257.7,785.5 258.7,784.5 259.7,783.5 260.7,782.4 261.7,781.3 262.7,780.2 263.7,779.1 264.7,778.0 265.7,776.9 266.7,775.7 267.7,774.5 268.7,773.3 269.7,772.1 270.7,770.9 271.7,769.7 272.7,768.4 273.7,767.1 274.7,765.9 275.7,764.6 276.7,763.2 277.7,761.9 278.7,760.6 279.7,759.2 280.7,757.8 281.7,756.4 282.7,755.0 283.7,753.6 284.7,752.2 285.7,750.7 286.7,749.2 287.7,747.8 288.7,746.3 289.7,744.8 290.7,743.2 291.7,741.7 292.7,740.2 293.7,738.6 294.7,737.0 295.7,735.4 296.7,733.9 297.7,732.2 298.7,730.6 299.7,729.0 300.7,727.4 301.7,725.7 302.7,724.0 303.7,722.4 304.7,720.7 305.7,719.0 306.7,717.3 307.7,715.6 308.7,713.9 309.7,712.1 310.7,710.4 311.7,708.7 312.7,706.9 313.7,705.2 314.7,703.4 315.7,701.6 316.7,699.9 317.7,698.1 318.7,696.3 319.7,694.5 320.7,692.7 321.7,690.9 322.7,689.1 323.7,687.3 324.7,685.5 325.7,683.7 326.7,681.9 327.7,680.1 328.7,678.3 329.7,676.4 330.7,674.6 331.7,672.8 332.7,671.0 333.7,669.2 334.7,667.4 335.7,665.6 336.7,663.8 337.7,661.9 338.7,660.1 339.7,658.3 340.7,656.5 341.7,654.8 342.7,653.0 343.7,651.2 344.7,649.4 345.7,647.6 346.7,645.9 347.7,644.1 348.7,642.3 349.7,640.6 350.7,638.8 351.7,637.1 352.7,635.4 353.7,633.7 354.7,631.9 355.7,630.2 356.7,628.6 357.7,626.9 358.7,625.2 359.7,623.5 360.7,621.9 361.7,620.2 362.7,618.6 363.7,617.0 364.7,615.4 365.7,613.8 366.7,612.2 367.7,610.6 368.7,609.1 369.7,607.5 370.7,606.0 371.7,604.5 372.7,602.9 373.7,601.4 374.7,600.0 375.7,598.5 376.7,597.0 377.7,595.6 378.7,594.2 379.7,592.8 380.7,591.4 381.7,590.0 382.7,588.6 383.7,587.3 384.7,585.9 385.7,584.6 386.7,583.3 387.7,582.0 388.7,580.8 389.7,579.5 390.7,578.3 391.7,577.0 392.7,575.8 393.7,574.6 394.7,573.5 395.7,572.3 396.7,571.2 397.7,570.0 398.7,568.9 399.7,567.8 400.7,566.7 401.7,565.7 402.7,564.6 403.7,563.6 404.7,562.6 405.7,561.6 406.7,560.6 407.7,559.6 408.7,558.7 409.7,557.7 410.7,556.8 411.7,555.9 412.7,555.0 413.7,554.2 414.7,553.3 415.7,552.5 416.7,551.6 417.7,550.8 418.7,550.0 419.7,549.2 420.7,548.5 421.7,547.7 422.7,547.0 423.7,546.3 424.7,545.6 425.7,544.9 426.7,544.2 427.7,543.5 428.7,542.9 429.7,542.2 430.7,541.6 431.7,541.0 432.7,540.4 433.7,539.8 434.7,539.2 435.7,538.7 436.7,538.1 437.7,537.6 438.7,537.1 439.7,536.5 440.7,536.0 441.7,535.6 442.7,535.1 443.7,534.6 444.7,534.2 445.7,533.7 446.7,533.3 447.7,532.9 448.7,532.4 449.7,532.0 450.7,531.7 451.7,531.3 452.7,530.9 453.7,530.5 454.7,530.2 455.7,529.8 456.7,529.5 457.7,529.2 458.7,528.9 459.7,528.6 460.7,528.3 461.7,528.0 462.7,527.7 463.7,527.4 464.7,527.2 465.7,526.9 466.7,526.6 467.7,526.4 468.7,526.2 469.7,525.9 470.7,525.7 471.7,525.5 472.7,525.3 473.7,525.1 474.7,524.9 475.7,524.7 476.7,524.5 477.7,524.3 478.7,524.1 479.7,524.0 480.7,523.8 481.7,523.6 482.7,523.5 483.7,523.3 484.7,523.2 485.7,523.1 486.7,522.9 487.7,522.8 488.7,522.7 489.7,522.6 490.7,522.4 491.7,522.3 492.7,522.2 493.7,522.1 494.7,522.0 495.7,521.9 496.7,521.8 497.7,521.7 498.7,521.6 499.7,521.5 500.7,521.5 501.7,521.4 502.7,521.3 503.7,521.2 504.7,521.2 505.7,521.1 506.7,521.0 507.7,521.0 508.7,520.9 509.7,520.8 510.7,520.8 511.7,520.7 512.7,520.7 513.7,520.6 514.7,520.6 515.7,520.5 516.7,520.5 517.7,520.4 518.7,520.4 519.7,520.4 520.7,520.3 521.7,520.3 522.7,520.3 523.7,520.2 524.7,520.2 525.7,520.2 526.7,520.1 527.7,520.1 528.7,520.1 529.7,520.0 530.7,520.0 531.7,520.0 532.7,520.0 533.7,519.9 534.7,519.9" fill="none" stroke="#000" stroke-width="2" stroke-linejoin="round"/>
<rect x="57" y="507" width="478" height="1" fill="#000"/>
<rect x="57" y="842" width="478" height="1" fill="#000"/>
<rect x="57" y="507" width="1" height="336" fill="#000"/>
<rect x="534" y="507" width="1" height="336" fill="#000"/>
<path d="M57 768h2v1h-2zM60 768h2v1h-2zM63 768h2v1h-2zM66 768h2v1h-2zM69 768h2v1h-2zM72 768h2v1h-2zM75 768h2v1h-2zM78 768h2v1h-2zM81 768h2v1h-2zM84 768h2v1h-2zM87 768h2v1h-2zM90 768h2v1h-2zM93 768h2v1h-2zM96 768h2v1h-2zM99 768h2v1h-2zM102 768h2v1h-2zM105 768h2v1h-2zM108 768h2v1h-2zM111 768h2v1h-2zM114 768h2v1h-2zM117 768h2v1h-2zM120 768h2v1h-2zM123 768h2v1h-2zM126 768h2v1h-2zM129 768h2v1h-2zM132 768h2v1h-2zM135 768h2v1h-2zM138 768h2v1h-2zM141 768h2v1h-2zM144 768h2v1h-2zM147 768h2v1h-2zM150 768h2v1h-2zM153 768h2v1h-2zM156 768h2v1h-2zM159 768h2v1h-2zM162 768h2v1h-2zM165 768h2v1h-2zM168 768h2v1h-2zM171 768h2v1h-2zM174 768h2v1h-2zM177 768h2v1h-2zM180 768h2v1h-2zM183 768h2v1h-2zM186 768h2v1h-2zM189 768h2v1h-2zM192 768h2v1h-2zM195 768h2v1h-2zM198 768h2v1h-2zM201 768h2v1h-2zM204 768h2v1h-2zM207 768h2v1h-2zM210 768h2v1h-2zM213 768h2v1h-2zM216 768h2v1h-2zM219 768h2v1h-2zM222 768h2v1h-2zM225 768h2v1h-2zM228 768h2v1h-2zM231 768h2v1h-2zM234 768h2v1h-2zM237 768h2v1h-2zM240 768h2v1h-2zM243 768h2v1h-2zM246 768h2v1h-2zM249 768h2v1h-2zM252 768h2v1h-2zM255 768h2v1h-2zM258 768h2v1h-2zM261 768h2v1h-2zM264 768h2v1h-2zM267 768h2v1h-2zM270 768h2v1h-2zM273 768h2v1h-2zM276 768h2v1h-2zM279 768h2v1h-2zM282 768h2v1h-2zM285 768h2v1h-2zM288 768h2v1h-2zM291 768h2v1h-2zM294 768h2v1h-2zM297 768h2v1h-2zM300 768h2v1h-2zM303 768h2v1h-2zM306 768h2v1h-2zM309 768h2v1h-2zM312 768h2v1h-2zM315 768h2v1h-2zM318 768h2v1h-2zM321 768h2v1h-2zM324 768h2v1h-2zM327 768h2v1h-2zM330 768h2v1h-2zM333 768h2v1h-2zM336 768h2v1h-2zM339 768h2v1h-2zM342 768h2v1h-2zM345 768h2v1h-2zM348 768h2v1h-2zM351 768h2v1h-2zM354 768h2v1h-2zM357 768h2v1h-2zM360 768h2v1h-2zM363 768h2v1h-2zM366 768h2v1h-2zM369 768h2v1h-2zM372 768h2v1h-2zM375 768h2v1h-2zM378 768h2v1h-2zM381 768h2v1h-2zM384 768h2v1h-2zM387 768h2v1h-2zM390 768h2v1h-2zM393 768h2v1h-2zM396 768h2v1h-2zM399 768h2v1h-2zM402 768h2v1h-2zM405 768h2v1h-2zM408 768h2v1h-2zM411 768h2v1h-2zM414 768h2v1h-2zM417 768h2v1h-2zM420 768h2v1h-2zM423 768h2v1h-2zM426 768h2v1h-2zM429 768h2v1h-2zM432 768h2v1h-2zM435 768h2v1h-2zM438 768h2v1h-2zM441 768h2v1h-2zM444 768h2v1h-2zM447 768h2v1h-2zM450 768h2v1h-2zM453 768h2v1h-2zM456 768h2v1h-2zM459 768h2v1h-2zM462 768h2v1h-2zM465 768h2v1h-2zM468 768h2v1h-2zM471 768h2v1h-2zM474 768h2v1h-2zM477 768h2v1h-2zM480 768h2v1h-2zM483 768h2v1h-2zM486 768h2v1h-2zM489 768h2v1h-2zM492 768h2v1h-2zM495 768h2v1h-2zM498 768h2v1h-2zM501 768h2v1h-2zM504 768h2v1h-2zM507 768h2v1h-2zM510 768h2v1h-2zM513 768h2v1h-2zM516 768h2v1h-2zM519 768h2v1h-2zM522 768h2v1h-2zM525 768h2v1h-2zM528 768h2v1h-2zM531 768h2v1h-2zM534 768h1v1h-1z" fill="#b3b3b3"/>
<path d="M57 706h2v1h-2zM60 706h2v1h-2zM63 706h2v1h-2zM66 706h2v1h-2zM69 706h2v1h-2zM72 706h2v1h-2zM75 706h2v1h-2zM78 706h2v1h-2zM81 706h2v1h-2zM84 706h2v1h-2zM87 706h2v1h-2zM90 706h2v1h-2zM93 706h2v1h-2zM96 706h2v1h-2zM99 706h2v1h-2zM102 706h2v1h-2zM105 706h2v1h-2zM108 706h2v1h-2zM111 706h2v1h-2zM114 706h2v1h-2zM117 706h2v1h-2zM120 706h2v1h-2zM123 706h2v1h-2zM126 706h2v1h-2zM129 706h2v1h-2zM132 706h2v1h-2zM135 706h2v1h-2zM138 706h2v1h-2zM141 706h2v1h-2zM144 706h2v1h-2zM147 706h2v1h-2zM150 706h2v1h-2zM153 706h2v1h-2zM156 706h2v1h-2zM159 706h2v1h-2zM162 706h2v1h-2zM165 706h2v1h-2zM168 706h2v1h-2zM171 706h2v1h-2zM174 706h2v1h-2zM177 706h2v1h-2zM180 706h2v1h-2zM183 706h2v1h-2zM186 706h2v1h-2zM189 706h2v1h-2zM192 706h2v1h-2zM195 706h2v1h-2zM198 706h2v1h-2zM201 706h2v1h-2zM204 706h2v1h-2zM207 706h2v1h-2zM210 706h2v1h-2zM213 706h2v1h-2zM216 706h2v1h-2zM219 706h2v1h-2zM222 706h2v1h-2zM225 706h2v1h-2zM228 706h2v1h-2zM231 706h2v1h-2zM234 706h2v1h-2zM237 706h2v1h-2zM240 706h2v1h-2zM243 706h2v1h-2zM246 706h2v1h-2zM249 706h2v1h-2zM252 706h2v1h-2zM255 706h2v1h-2zM258 706h2v1h-2zM261 706h2v1h-2zM264 706h2v1h-2zM267 706h2v1h-2zM270 706h2v1h-2zM273 706h2v1h-2zM276 706h2v1h-2zM279 706h2v1h-2zM282 706h2v1h-2zM285 706h2v1h-2zM288 706h2v1h-2zM291 706h2v1h-2zM294 706h2v1h-2zM297 706h2v1h-2zM300 706h2v1h-2zM303 706h2v1h-2zM306 706h2v1h-2zM309 706h2v1h-2zM312 706h2v1h-2zM315 706h2v1h-2zM318 706h2v1h-2zM321 706h2v1h-2zM324 706h2v1h-2zM327 706h2v1h-2zM330 706h2v1h-2zM333 706h2v1h-2zM336 706h2v1h-2zM339 706h2v1h-2zM342 706h2v1h-2zM345 706h2v1h-2zM348 706h2v1h-2zM351 706h2v1h-2zM354 706h2v1h-2zM357 706h2v1h-2zM360 706h2v1h-2zM363 706h2v1h-2zM366 706h2v1h-2zM369 706h2v1h-2zM372 706h2v1h-2zM375 706h2v1h-2zM378 706h2v1h-2zM381 706h2v1h-2zM384 706h2v1h-2zM387 706h2v1h-2zM390 706h2v1h-2zM393 706h2v1h-2zM396 706h2v1h-2zM399 706h2v1h-2zM402 706h2v1h-2zM405 706h2v1h-2zM408 706h2v1h-2zM411 706h2v1h-2zM414 706h2v1h-2zM417 706h2v1h-2zM420 706h2v1h-2zM423 706h2v1h-2zM426 706h2v1h-2zM429 706h2v1h-2zM432 706h2v1h-2zM435 706h2v1h-2zM438 706h2v1h-2zM441 706h2v1h-2zM444 706h2v1h-2zM447 706h2v1h-2zM450 706h2v1h-2zM453 706h2v1h-2zM456 706h2v1h-2zM459 706h2v1h-2zM462 706h2v1h-2zM465 706h2v1h-2zM468 706h2v1h-2zM471 706h2v1h-2zM474 706h2v1h-2zM477 706h2v1h-2zM480 706h2v1h-2zM483 706h2v1h-2zM486 706h2v1h-2zM489 706h2v1h-2zM492 706h2v1h-2zM495 706h2v1h-2zM498 706h2v1h-2zM501 706h2v1h-2zM504 706h2v1h-2zM507 706h2v1h-2zM510 706h2v1h-2zM513 706h2v1h-2zM516 706h2v1h-2zM519 706h2v1h-2zM522 706h2v1h-2zM525 706h2v1h-2zM528 706h2v1h-2zM531 706h2v1h-2zM534 706h1v1h-1z" fill="#b3b3b3"/>
<path d="M57 644h2v1h-2zM60 644h2v1h-2zM63 644h2v1h-2zM66 644h2v1h-2zM69 644h2v1h-2zM72 644h2v1h-2zM75 644h2v1h-2zM78 644h2v1h-2zM81 644h2v1h-2zM84 644h2v1h-2zM87 644h2v1h-2zM90 644h2v1h-2zM93 644h2v1h-2zM96 644h2v1h-2zM99 644h2v1h-2zM102 644h2v1h-2zM105 644h2v1h-2zM108 644h2v1h-2zM111 644h2v1h-2zM114 644h2v1h-2zM117 644h2v1h-2zM120 644h2v1h-2zM123 644h2v1h-2zM126 644h2v1h-2zM129 644h2v1h-2zM132 644h2v1h-2zM135 644h2v1h-2zM138 644h2v1h-2zM141 644h2v1h-2zM144 644h2v1h-2zM147 644h2v1h-2zM150 644h2v1h-2zM153 644h2v1h-2zM156 644h2v1h-2zM159 644h2v1h-2zM162 644h2v1h-2zM165 644h2v1h-2zM168 644h2v1h-2zM171 644h2v1h-2zM174 644h2v1h-2zM177 644h2v1h-2zM180 644h2v1h-2zM183 644h2v1h-2zM186 644h2v1h-2zM189 644h2v1h-2zM192 644h2v1h-2zM195 644h2v1h-2zM198 644h2v1h-2zM201 644h2v1h-2zM204 644h2v1h-2zM207 644h2v1h-2zM210 644h2v1h-2zM213 644h2v1h-2zM216 644h2v1h-2zM219 644h2v1h-2zM222 644h2v1h-2zM225 644h2v1h-2zM228 644h2v1h-2zM231 644h2v1h-2zM234 644h2v1h-2zM237 644h2v1h-2zM240 644h2v1h-2zM243 644h2v1h-2zM246 644h2v1h-2zM249 644h2v1h-2zM252 644h2v1h-2zM255 644h2v1h-2zM258 644h2v1h-2zM261 644h2v1h-2zM264 644h2v1h-2zM267 644h2v1h-2zM270 644h2v1h-2zM273 644h2v1h-2zM276 644h2v1h-2zM279 644h2v1h-2zM282 644h2v1h-2zM285 644h2v1h-2zM288 644h2v1h-2zM291 644h2v1h-2zM294 644h2v1h-2zM297 644h2v1h-2zM300 644h2v1h-2zM303 644h2v1h-2zM306 644h2v1h-2zM309 644h2v1h-2zM312 644h2v1h-2zM315 644h2v1h-2zM318 644h2v1h-2zM321 644h2v1h-2zM324 644h2v1h-2zM327 644h2v1h-2zM330 644h2v1h-2zM333 644h2v1h-2zM336 644h2v1h-2zM339 644h2v1h-2zM342 644h2v1h-2zM345 644h2v1h-2zM348 644h2v1h-2zM351 644h2v1h-2zM354 644h2v1h-2zM357 644h2v1h-2zM360 644h2v1h-2zM363 644h2v1h-2zM366 644h2v1h-2zM369 644h2v1h-2zM372 644h2v1h-2zM375 644h2v1h-2zM378 644h2v1h-2zM381 644h2v1h-2zM384 644h2v1h-2zM387 644h2v1h-2zM390 644h2v1h-2zM393 644h2v1h-2zM396 644h2v1h-2zM399 644h2v1h-2zM402 644h2v1h-2zM405 644h2v1h-2zM408 644h2v1h-2zM411 644h2v1h-2zM414 644h2v1h-2zM417 644h2v1h-2zM420 644h2v1h-2zM423 644h2v1h-2zM426 644h2v1h-2zM429 644h2v1h-2zM432 644h2v1h-2zM435 644h2v1h-2zM438 644h2v1h-2zM441 644h2v1h-2zM444 644h2v1h-2zM447 644h2v1h-2zM450 644h2v1h-2zM453 644h2v1h-2zM456 644h2v1h-2zM459 644h2v1h-2zM462 644h2v1h-2zM465 644h2v1h-2zM468 644h2v1h-2zM471 644h2v1h-2zM474 644h2v1h-2zM477 644h2v1h-2zM480 644h2v1h-2zM483 644h2v1h-2zM486 644h2v1h-2zM489 644h2v1h-2zM492 644h2v1h-2zM495 644h2v1h-2zM498 644h2v1h-2zM501 644h2v1h-2zM504 644h2v1h-2zM507 644h2v1h-2zM510 644h2v1h-2zM513 644h2v1h-2zM516 644h2v1h-2zM519 644h2v1h-2zM522 644h2v1h-2zM525 644h2v1h-2zM528 644h2v1h-2zM531 644h2v1h-2zM534 644h1v1h-1z" fill="#b3b3b3"/>
<path d="M57 582h2v1h-2zM60 582h2v1h-2zM63 582h2v1h-2zM66 582h2v1h-2zM69 582h2v1h-2zM72 582h2v1h-2zM75 582h2v1h-2zM78 582h2v1h-2zM81 582h2v1h-2zM84 582h2v1h-2zM87 582h2v1h-2zM90 582h2v1h-2zM93 582h2v1h-2zM96 582h2v1h-2zM99 582h2v1h-2zM102 582h2v1h-2zM105 582h2v1h-2zM108 582h2v1h-2zM111 582h2v1h-2zM114 582h2v1h-2zM117 582h2v1h-2zM120 582h2v1h-2zM123 582h2v1h-2zM126 582h2v1h-2zM129 582h2v1h-2zM132 582h2v1h-2zM135 582h2v1h-2zM138 582h2v1h-2zM141 582h2v1h-2zM144 582h2v1h-2zM147 582h2v1h-2zM150 582h2v1h-2zM153 582h2v1h-2zM156 582h2v1h-2zM159 582h2v1h-2zM162 582h2v1h-2zM165 582h2v1h-2zM168 582h2v1h-2zM171 582h2v1h-2zM174 582h2v1h-2zM177 582h2v1h-2zM180 582h2v1h-2zM183 582h2v1h-2zM186 582h2v1h-2zM189 582h2v1h-2zM192 582h2v1h-2zM195 582h2v1h-2zM198 582h2v1h-2zM201 582h2v1h-2zM204 582h2v1h-2zM207 582h2v1h-2zM210 582h2v1h-2zM213 582h2v1h-2zM216 582h2v1h-2zM219 582h2v1h-2zM222 582h2v1h-2zM225 582h2v1h-2zM228 582h2v1h-2zM231 582h2v1h-2zM234 582h2v1h-2zM237 582h2v1h-2zM240 582h2v1h-2zM243 582h2v1h-2zM246 582h2v1h-2zM249 582h2v1h-2zM252 582h2v1h-2zM255 582h2v1h-2zM258 582h2v1h-2zM261 582h2v1h-2zM264 582h2v1h-2zM267 582h2v1h-2zM270 582h2v1h-2zM273 582h2v1h-2zM276 582h2v1h-2zM279 582h2v1h-2zM282 582h2v1h-2zM285 582h2v1h-2zM288 582h2v1h-2zM291 582h2v1h-2zM294 582h2v1h-2zM297 582h2v1h-2zM300 582h2v1h-2zM303 582h2v1h-2zM306 582h2v1h-2zM309 582h2v1h-2zM312 582h2v1h-2zM315 582h2v1h-2zM318 582h2v1h-2zM321 582h2v1h-2zM324 582h2v1h-2zM327 582h2v1h-2zM330 582h2v1h-2zM333 582h2v1h-2zM336 582h2v1h-2zM339 582h2v1h-2zM342 582h2v1h-2zM345 582h2v1h-2zM348 582h2v1h-2zM351 582h2v1h-2zM354 582h2v1h-2zM357 582h2v1h-2zM360 582h2v1h-2zM363 582h2v1h-2zM366 582h2v1h-2zM369 582h2v1h-2zM372 582h2v1h-2zM375 582h2v1h-2zM378 582h2v1h-2zM381 582h2v1h-2zM384 582h2v1h-2zM387 582h2v1h-2zM390 582h2v1h-2zM393 582h2v1h-2zM396 582h2v1h-2zM399 582h2v1h-2zM402 582h2v1h-2zM405 582h2v1h-2zM408 582h2v1h-2zM411 582h2v1h-2zM414 582h2v1h-2zM417 582h2v1h-2zM420 582h2v1h-2zM423 582h2v1h-2zM426 582h2v1h-2zM429 582h2v1h-2zM432 582h2v1h-2zM435 582h2v1h-2zM438 582h2v1h-2zM441 582h2v1h-2zM444 582h2v1h-2zM447 582h2v1h-2zM450 582h2v1h-2zM453 582h2v1h-2zM456 582h2v1h-2zM459 582h2v1h-2zM462 582h2v1h-2zM465 582h2v1h-2zM468 582h2v1h-2zM471 582h2v1h-2zM474 582h2v1h-2zM477 582h2v1h-2zM480 582h2v1h-2zM483 582h2v1h-2zM486 582h2v1h-2zM489 582h2v1h-2zM492 582h2v1h-2zM495 582h2v1h-2zM498 582h2v1h-2zM501 582h2v1h-2zM504 582h2v1h-2zM507 582h2v1h-2zM510 582h2v1h-2zM513 582h2v1h-2zM516 582h2v1h-2zM519 582h2v1h-2zM522 582h2v1h-2zM525 582h2v1h-2zM528 582h2v1h-2zM531 582h2v1h-2zM534 582h1v1h-1z" fill="#b3b3b3"/>
<path d="M57 520h2v1h-2zM60 520h2v1h-2zM63 520h2v1h-2zM66 520h2v1h-2zM69 520h2v1h-2zM72 520h2v1h-2zM75 520h2v1h-2zM78 520h2v1h-2zM81 520h2v1h-2zM84 520h2v1h-2zM87 520h2v1h-2zM90 520h2v1h-2zM93 520h2v1h-2zM96 520h2v1h-2zM99 520h2v1h-2zM102 520h2v1h-2zM105 520h2v1h-2zM108 520h2v1h-2zM111 520h2v1h-2zM114 520h2v1h-2zM117 520h2v1h-2zM120 520h2v1h-2zM123 520h2v1h-2zM126 520h2v1h-2zM129 520h2v1h-2zM132 520h2v1h-2zM135 520h2v1h-2zM138 520h2v1h-2zM141 520h2v1h-2zM144 520h2v1h-2zM147 520h2v1h-2zM150 520h2v1h-2zM153 520h2v1h-2zM156 520h2v1h-2zM159 520h2v1h-2zM162 520h2v1h-2zM165 520h2v1h-2zM168 520h2v1h-2zM171 520h2v1h-2zM174 520h2v1h-2zM177 520h2v1h-2zM180 520h2v1h-2zM183 520h2v1h-2zM186 520h2v1h-2zM189 520h2v1h-2zM192 520h2v1h-2zM195 520h2v1h-2zM198 520h2v1h-2zM201 520h2v1h-2zM204 520h2v1h-2zM207 520h2v1h-2zM210 520h2v1h-2zM213 520h2v1h-2zM216 520h2v1h-2zM219 520h2v1h-2zM222 520h2v1h-2zM225 520h2v1h-2zM228 520h2v1h-2zM231 520h2v1h-2zM234 520h2v1h-2zM237 520h2v1h-2zM240 520h2v1h-2zM243 520h2v1h-2zM246 520h2v1h-2zM249 520h2v1h-2zM252 520h2v1h-2zM255 520h2v1h-2zM258 520h2v1h-2zM261 520h2v1h-2zM264 520h2v1h-2zM267 520h2v1h-2zM270 520h2v1h-2zM273 520h2v1h-2zM276 520h2v1h-2zM279 520h2v1h-2zM282 520h2v1h-2zM285 520h2v1h-2zM288 520h2v1h-2zM291 520h2v1h-2zM294 520h2v1h-2zM297 520h2v1h-2zM300 520h2v1h-2zM303 520h2v1h-2zM306 520h2v1h-2zM309 520h2v1h-2zM312 520h2v1h-2zM315 520h2v1h-2zM318 520h2v1h-2zM321 520h2v1h-2zM324 520h2v1h-2zM327 520h2v1h-2zM330 520h2v1h-2zM333 520h2v1h-2zM336 520h2v1h-2zM339 520h2v1h-2zM342 520h2v1h-2zM345 520h2v1h-2zM348 520h2v1h-2zM351 520h2v1h-2zM354 520h2v1h-2zM357 520h2v1h-2zM360 520h2v1h-2zM363 520h2v1h-2zM366 520h2v1h-2zM369 520h2v1h-2zM372 520h2v1h-2zM375 520h2v1h-2zM378 520h2v1h-2zM381 520h2v1h-2zM384 520h2v1h-2zM387 520h2v1h-2zM390 520h2v1h-2zM393 520h2v1h-2zM396 520h2v1h-2zM399 520h2v1h-2zM402 520h2v1h-2zM405 520h2v1h-2zM408 520h2v1h-2zM411 520h2v1h-2zM414 520h2v1h-2zM417 520h2v1h-2zM420 520h2v1h-2zM423 520h2v1h-2zM426 520h2v1h-2zM429 520h2v1h-2zM432 520h2v1h-2zM435 520h2v1h-2zM438 520h2v1h-2zM441 520h2v1h-2zM444 520h2v1h-2zM447 520h2v1h-2zM450 520h2v1h-2zM453 520h2v1h-2zM456 520h2v1h-2zM459 520h2v1h-2zM462 520h2v1h-2zM465 520h2v1h-2zM468 520h2v1h-2zM471 520h2v1h-2zM474 520h2v1h-2zM477 520h2v1h-2zM480 520h2v1h-2zM483 520h2v1h-2zM486 520h2v1h-2zM489 520h2v1h-2zM492 520h2v1h-2zM495 520h2v1h-2zM498 520h2v1h-2zM501 520h2v1h-2zM504 520h2v1h-2zM507 520h2v1h-2zM510 520h2v1h-2zM513 520h2v1h-2zM516 520h2v1h-2zM519 520h2v1h-2zM522 520h2v1h-2zM525 520h2v1h-2zM528 520h2v1h-2zM531 520h2v1h-2zM534 520h1v1h-1z" fill="#b3b3b3"/>
<path d="M57 841h1v2h-1zM57 838h1v2h-1zM57 835h1v2h-1zM57 832h1v2h-1zM57 829h1v2h-1zM57 826h1v2h-1zM57 823h1v2h-1zM57 820h1v2h-1zM57 817h1v2h-1zM57 814h1v2h-1zM57 811h1v2h-1zM57 808h1v2h-1zM57 805h1v2h-1zM57 802h1v2h-1zM57 799h1v2h-1zM57 796h1v2h-1zM57 793h1v2h-1zM57 790h1v2h-1zM57 787h1v2h-1zM57 784h1v2h-1zM57 781h1v2h-1zM57 778h1v2h-1zM57 775h1v2h-1zM57 772h1v2h-1zM57 769h1v2h-1zM57 766h1v2h-1zM57 763h1v2h-1zM57 760h1v2h-1zM57 757h1v2h-1zM57 754h1v2h-1zM57 751h1v2h-1zM57 748h1v2h-1zM57 745h1v2h-1zM57 742h1v2h-1zM57 739h1v2h-1zM57 736h1v2h-1zM57 733h1v2h-1zM57 730h1v2h-1zM57 727h1v2h-1zM57 724h1v2h-1zM57 721h1v2h-1zM57 718h1v2h-1zM57 715h1v2h-1zM57 712h1v2h-1zM57 709h1v2h-1zM57 706h1v2h-1zM57 703h1v2h-1zM57 700h1v2h-1zM57 697h1v2h-1zM57 694h1v2h-1zM57 691h1v2h-1zM57 688h1v2h-1zM57 685h1v2h-1zM57 682h1v2h-1zM57 679h1v2h-1zM57 676h1v2h-1zM57 673h1v2h-1zM57 670h1v2h-1zM57 667h1v2h-1zM57 664h1v2h-1zM57 661h1v2h-1zM57 658h1v2h-1zM57 655h1v2h-1zM57 652h1v2h-1zM57 649h1v2h-1zM57 646h1v2h-1zM57 643h1v2h-1zM57 640h1v2h-1zM57 637h1v2h-1zM57 634h1v2h-1zM57 631h1v2h-1zM57 628h1v2h-1zM57 625h1v2h-1zM57 622h1v2h-1zM57 619h1v2h-1zM57 616h1v2h-1zM57 613h1v2h-1zM57 610h1v2h-1zM57 607h1v2h-1zM57 604h1v2h-1zM57 601h1v2h-1zM57 598h1v2h-1zM57 595h1v2h-1zM57 592h1v2h-1zM57 589h1v2h-1zM57 586h1v2h-1zM57 583h1v2h-1zM57 580h1v2h-1zM57 577h1v2h-1zM57 574h1v2h-1zM57 571h1v2h-1zM57 568h1v2h-1zM57 565h1v2h-1zM57 562h1v2h-1zM57 559h1v2h-1zM57 556h1v2h-1zM57 553h1v2h-1zM57 550h1v2h-1zM57 547h1v2h-1zM57 544h1v2h-1zM57 541h1v2h-1zM57 538h1v2h-1zM57 535h1v2h-1zM57 532h1v2h-1zM57 529h1v2h-1zM57 526h1v2h-1zM57 523h1v2h-1zM57 520h1v2h-1zM57 517h1v2h-1zM57 514h1v2h-1zM57 511h1v2h-1zM57 508h1v2h-1z" fill="#b3b3b3"/>
<path d="M125 841h1v2h-1zM125 838h1v2h-1zM125 835h1v2h-1zM125 832h1v2h-1zM125 829h1v2h-1zM125 826h1v2h-1zM125 823h1v2h-1zM125 820h1v2h-1zM125 817h1v2h-1zM125 814h1v2h-1zM125 811h1v2h-1zM125 808h1v2h-1zM125 805h1v2h-1zM125 802h1v2h-1zM125 799h1v2h-1zM125 796h1v2h-1zM125 793h1v2h-1zM125 790h1v2h-1zM125 787h1v2h-1zM125 784h1v2h-1zM125 781h1v2h-1zM125 778h1v2h-1zM125 775h1v2h-1zM125 772h1v2h-1zM125 769h1v2h-1zM125 766h1v2h-1zM125 763h1v2h-1zM125 760h1v2h-1zM125 757h1v2h-1zM125 754h1v2h-1zM125 751h1v2h-1zM125 748h1v2h-1zM125 745h1v2h-1zM125 742h1v2h-1zM125 739h1v2h-1zM125 736h1v2h-1zM125 733h1v2h-1zM125 730h1v2h-1zM125 727h1v2h-1zM125 724h1v2h-1zM125 721h1v2h-1zM125 718h1v2h-1zM125 715h1v2h-1zM125 712h1v2h-1zM125 709h1v2h-1zM125 706h1v2h-1zM125 703h1v2h-1zM125 700h1v2h-1zM125 697h1v2h-1zM125 694h1v2h-1zM125 691h1v2h-1zM125 688h1v2h-1zM125 685h1v2h-1zM125 682h1v2h-1zM125 679h1v2h-1zM125 676h1v2h-1zM125 673h1v2h-1zM125 670h1v2h-1zM125 667h1v2h-1zM125 664h1v2h-1zM125 661h1v2h-1zM125 658h1v2h-1zM125 655h1v2h-1zM125 652h1v2h-1zM125 649h1v2h-1zM125 646h1v2h-1zM125 643h1v2h-1zM125 640h1v2h-1zM125 637h1v2h-1zM125 634h1v2h-1zM125 631h1v2h-1zM125 628h1v2h-1zM125 625h1v2h-1zM125 622h1v2h-1zM125 619h1v2h-1zM125 616h1v2h-1zM125 613h1v2h-1zM125 610h1v2h-1zM125 607h1v2h-1zM125 604h1v2h-1zM125 601h1v2h-1zM125 598h1v2h-1zM125 595h1v2h-1zM125 592h1v2h-1zM125 589h1v2h-1zM125 586h1v2h-1zM125 583h1v2h-1zM125 580h1v2h-1zM125 577h1v2h-1zM125 574h1v2h-1zM125 571h1v2h-1zM125 568h1v2h-1zM125 565h1v2h-1zM125 562h1v2h-1zM125 559h1v2h-1zM125 556h1v2h-1zM125 553h1v2h-1zM125 550h1v2h-1zM125 547h1v2h-1zM125 544h1v2h-1zM125 541h1v2h-1zM125 538h1v2h-1zM125 535h1v2h-1zM125 532h1v2h-1zM125 529h1v2h-1zM125 526h1v2h-1zM125 523h1v2h-1zM125 520h1v2h-1zM125 517h1v2h-1zM125 514h1v2h-1zM125 511h1v2h-1zM125 508h1v2h-1z" fill="#b3b3b3"/>
<path d="M193 841h1v2h-1zM193 838h1v2h-1zM193 835h1v2h-1zM193 832h1v2h-1zM193 829h1v2h-1zM193 826h1v2h-1zM193 823h1v2h-1zM193 820h1v2h-1zM193 817h1v2h-1zM193 814h1v2h-1zM193 811h1v2h-1zM193 808h1v2h-1zM193 805h1v2h-1zM193 802h1v2h-1zM193 799h1v2h-1zM193 796h1v2h-1zM193 793h1v2h-1zM193 790h1v2h-1zM193 787h1v2h-1zM193 784h1v2h-1zM193 781h1v2h-1zM193 778h1v2h-1zM193 775h1v2h-1zM193 772h1v2h-1zM193 769h1v2h-1zM193 766h1v2h-1zM193 763h1v2h-1zM193 760h1v2h-1zM193 757h1v2h-1zM193 754h1v2h-1zM193 751h1v2h-1zM193 748h1v2h-1zM193 745h1v2h-1zM193 742h1v2h-1zM193 739h1v2h-1zM193 736h1v2h-1zM193 733h1v2h-1zM193 730h1v2h-1zM193 727h1v2h-1zM193 724h1v2h-1zM193 721h1v2h-1zM193 718h1v2h-1zM193 715h1v2h-1zM193 712h1v2h-1zM193 709h1v2h-1zM193 706h1v2h-1zM193 703h1v2h-1zM193 700h1v2h-1zM193 697h1v2h-1zM193 694h1v2h-1zM193 691h1v2h-1zM193 688h1v2h-1zM193 685h1v2h-1zM193 682h1v2h-1zM193 679h1v2h-1zM193 676h1v2h-1zM193 673h1v2h-1zM193 670h1v2h-1zM193 667h1v2h-1zM193 664h1v2h-1zM193 661h1v2h-1zM193 658h1v2h-1zM193 655h1v2h-1zM193 652h1v2h-1zM193 649h1v2h-1zM193 646h1v2h-1zM193 643h1v2h-1zM193 640h1v2h-1zM193 637h1v2h-1zM193 634h1v2h-1zM193 631h1v2h-1zM193 628h1v2h-1zM193 625h1v2h-1zM193 622h1v2h-1zM193 619h1v2h-1zM193 616h1v2h-1zM193 613h1v2h-1zM193 610h1v2h-1zM193 607h1v2h-1zM193 604h1v2h-1zM193 601h1v2h-1zM193 598h1v2h-1zM193 595h1v2h-1zM193 592h1v2h-1zM193 589h1v2h-1zM193 586h1v2h-1zM193 583h1v2h-1zM193 580h1v2h-1zM193 577h1v2h-1zM193 574h1v2h-1zM193 571h1v2h-1zM193 568h1v2h-1zM193 565h1v2h-1zM193 562h1v2h-1zM193 559h1v2h-1zM193 556h1v2h-1zM193 553h1v2h-1zM193 550h1v2h-1zM193 547h1v2h-1zM193 544h1v2h-1zM193 541h1v2h-1zM193 538h1v2h-1zM193 535h1v2h-1zM193 532h1v2h-1zM193 529h1v2h-1zM193 526h1v2h-1zM193 523h1v2h-1zM193 520h1v2h-1zM193 517h1v2h-1zM193 514h1v2h-1zM193 511h1v2h-1zM193 508h1v2h-1z" fill="#b3b3b3"/>
<path d="M262 841h1v2h-1zM262 838h1v2h-1zM262 835h1v2h-1zM262 832h1v2h-1zM262 829h1v2h-1zM262 826h1v2h-1zM262 823h1v2h-1zM262 820h1v2h-1zM262 817h1v2h-1zM262 814h1v2h-1zM262 811h1v2h-1zM262 808h1v2h-1zM262 805h1v2h-1zM262 802h1v2h-1zM262 799h1v2h-1zM262 796h1v2h-1zM262 793h1v2h-1zM262 790h1v2h-1zM262 787h1v2h-1zM262 784h1v2h-1zM262 781h1v2h-1zM262 778h1v2h-1zM262 775h1v2h-1zM262 772h1v2h-1zM262 769h1v2h-1zM262 766h1v2h-1zM262 763h1v2h-1zM262 760h1v2h-1zM262 757h1v2h-1zM262 754h1v2h-1zM262 751h1v2h-1zM262 748h1v2h-1zM262 745h1v2h-1zM262 742h1v2h-1zM262 739h1v2h-1zM262 736h1v2h-1zM262 733h1v2h-1zM262 730h1v2h-1zM262 727h1v2h-1zM262 724h1v2h-1zM262 721h1v2h-1zM262 718h1v2h-1zM262 715h1v2h-1zM262 712h1v2h-1zM262 709h1v2h-1zM262 706h1v2h-1zM262 703h1v2h-1zM262 700h1v2h-1zM262 697h1v2h-1zM262 694h1v2h-1zM262 691h1v2h-1zM262 688h1v2h-1zM262 685h1v2h-1zM262 682h1v2h-1zM262 679h1v2h-1zM262 676h1v2h-1zM262 673h1v2h-1zM262 670h1v2h-1zM262 667h1v2h-1zM262 664h1v2h-1zM262 661h1v2h-1zM262 658h1v2h-1zM262 655h1v2h-1zM262 652h1v2h-1zM262 649h1v2h-1zM262 646h1v2h-1zM262 643h1v2h-1zM262 640h1v2h-1zM262 637h1v2h-1zM262 634h1v2h-1zM262 631h1v2h-1zM262 628h1v2h-1zM262 625h1v2h-1zM262 622h1v2h-1zM262 619h1v2h-1zM262 616h1v2h-1zM262 613h1v2h-1zM262 610h1v2h-1zM262 607h1v2h-1zM262 604h1v2h-1zM262 601h1v2h-1zM262 598h1v2h-1zM262 595h1v2h-1zM262 592h1v2h-1zM262 589h1v2h-1zM262 586h1v2h-1zM262 583h1v2h-1zM262 580h1v2h-1zM262 577h1v2h-1zM262 574h1v2h-1zM262 571h1v2h-1zM262 568h1v2h-1zM262 565h1v2h-1zM262 562h1v2h-1zM262 559h1v2h-1zM262 556h1v2h-1zM262 553h1v2h-1zM262 550h1v2h-1zM262 547h1v2h-1zM262 544h1v2h-1zM262 541h1v2h-1zM262 538h1v2h-1zM262 535h1v2h-1zM262 532h1v2h-1zM262 529h1v2h-1zM262 526h1v2h-1zM262 523h1v2h-1zM262 520h1v2h-1zM262 517h1v2h-1zM262 514h1v2h-1zM262 511h1v2h-1zM262 508h1v2h-1z" fill="#b3b3b3"/>
<path d="M330 841h1v2h-1zM330 838h1v2h-1zM330 835h1v2h-1zM330 832h1v2h-1zM330 829h1v2h-1zM330 826h1v2h-1zM330 823h1v2h-1zM330 820h1v2h-1zM330 817h1v2h-1zM330 814h1v2h-1zM330 811h1v2h-1zM330 808h1v2h-1zM330 805h1v2h-1zM330 802h1v2h-1zM330 799h1v2h-1zM330 796h1v2h-1zM330 793h1v2h-1zM330 790h1v2h-1zM330 787h1v2h-1zM330 784h1v2h-1zM330 781h1v2h-1zM330 778h1v2h-1zM330 775h1v2h-1zM330 772h1v2h-1zM330 769h1v2h-1zM330 766h1v2h-1zM330 763h1v2h-1zM330 760h1v2h-1zM330 757h1v2h-1zM330 754h1v2h-1zM330 751h1v2h-1zM330 748h1v2h-1zM330 745h1v2h-1zM330 742h1v2h-1zM330 739h1v2h-1zM330 736h1v2h-1zM330 733h1v2h-1zM330 730h1v2h-1zM330 727h1v2h-1zM330 724h1v2h-1zM330 721h1v2h-1zM330 718h1v2h-1zM330 715h1v2h-1zM330 712h1v2h-1zM330 709h1v2h-1zM330 706h1v2h-1zM330 703h1v2h-1zM330 700h1v2h-1zM330 697h1v2h-1zM330 694h1v2h-1zM330 691h1v2h-1zM330 688h1v2h-1zM330 685h1v2h-1zM330 682h1v2h-1zM330 679h1v2h-1zM330 676h1v2h-1zM330 673h1v2h-1zM330 670h1v2h-1zM330 667h1v2h-1zM330 664h1v2h-1zM330 661h1v2h-1zM330 658h1v2h-1zM330 655h1v2h-1zM330 652h1v2h-1zM330 649h1v2h-1zM330 646h1v2h-1zM330 643h1v2h-1zM330 640h1v2h-1zM330 637h1v2h-1zM330 634h1v2h-1zM330 631h1v2h-1zM330 628h1v2h-1zM330 625h1v2h-1zM330 622h1v2h-1zM330 619h1v2h-1zM330 616h1v2h-1zM330 613h1v2h-1zM330 610h1v2h-1zM330 607h1v2h-1zM330 604h1v2h-1zM330 601h1v2h-1zM330 598h1v2h-1zM330 595h1v2h-1zM330 592h1v2h-1zM330 589h1v2h-1zM330 586h1v2h-1zM330 583h1v2h-1zM330 580h1v2h-1zM330 577h1v2h-1zM330 574h1v2h-1zM330 571h1v2h-1zM330 568h1v2h-1zM330 565h1v2h-1zM330 562h1v2h-1zM330 559h1v2h-1zM330 556h1v2h-1zM330 553h1v2h-1zM330 550h1v2h-1zM330 547h1v2h-1zM330 544h1v2h-1zM330 541h1v2h-1zM330 538h1v2h-1zM330 535h1v2h-1zM330 532h1v2h-1zM330 529h1v2h-1zM330 526h1v2h-1zM330 523h1v2h-1zM330 520h1v2h-1zM330 517h1v2h-1zM330 514h1v2h-1zM330 511h1v2h-1zM330 508h1v2h-1z" fill="#b3b3b3"/>
<path d="M398 841h1v2h-1zM398 838h1v2h-1zM398 835h1v2h-1zM398 832h1v2h-1zM398 829h1v2h-1zM398 826h1v2h-1zM398 823h1v2h-1zM398 820h1v2h-1zM398 817h1v2h-1zM398 814h1v2h-1zM398 811h1v2h-1zM398 808h1v2h-1zM398 805h1v2h-1zM398 802h1v2h-1zM398 799h1v2h-1zM398 796h1v2h-1zM398 793h1v2h-1zM398 790h1v2h-1zM398 787h1v2h-1zM398 784h1v2h-1zM398 781h1v2h-1zM398 778h1v2h-1zM398 775h1v2h-1zM398 772h1v2h-1zM398 769h1v2h-1zM398 766h1v2h-1zM398 763h1v2h-1zM398 760h1v2h-1zM398 757h1v2h-1zM398 754h1v2h-1zM398 751h1v2h-1zM398 748h1v2h-1zM398 745h1v2h-1zM398 742h1v2h-1zM398 739h1v2h-1zM398 736h1v2h-1zM398 733h1v2h-1zM398 730h1v2h-1zM398 727h1v2h-1zM398 724h1v2h-1zM398 721h1v2h-1zM398 718h1v2h-1zM398 715h1v2h-1zM398 712h1v2h-1zM398 709h1v2h-1zM398 706h1v2h-1zM398 703h1v2h-1zM398 700h1v2h-1zM398 697h1v2h-1zM398 694h1v2h-1zM398 691h1v2h-1zM398 688h1v2h-1zM398 685h1v2h-1zM398 682h1v2h-1zM398 679h1v2h-1zM398 676h1v2h-1zM398 673h1v2h-1zM398 670h1v2h-1zM398 667h1v2h-1zM398 664h1v2h-1zM398 661h1v2h-1zM398 658h1v2h-1zM398 655h1v2h-1zM398 652h1v2h-1zM398 649h1v2h-1zM398 646h1v2h-1zM398 643h1v2h-1zM398 640h1v2h-1zM398 637h1v2h-1zM398 634h1v2h-1zM398 631h1v2h-1zM398 628h1v2h-1zM398 625h1v2h-1zM398 622h1v2h-1zM398 619h1v2h-1zM398 616h1v2h-1zM398 613h1v2h-1zM398 610h1v2h-1zM398 607h1v2h-1zM398 604h1v2h-1zM398 601h1v2h-1zM398 598h1v2h-1zM398 595h1v2h-1zM398 592h1v2h-1zM398 589h1v2h-1zM398 586h1v2h-1zM398 583h1v2h-1zM398 580h1v2h-1zM398 577h1v2h-1zM398 574h1v2h-1zM398 571h1v2h-1zM398 568h1v2h-1zM398 565h1v2h-1zM398 562h1v2h-1zM398 559h1v2h-1zM398 556h1v2h-1zM398 553h1v2h-1zM398 550h1v2h-1zM398 547h1v2h-1zM398 544h1v2h-1zM398 541h1v2h-1zM398 538h1v2h-1zM398 535h1v2h-1zM398 532h1v2h-1zM398 529h1v2h-1zM398 526h1v2h-1zM398 523h1v2h-1zM398 520h1v2h-1zM398 517h1v2h-1zM398 514h1v2h-1zM398 511h1v2h-1zM398 508h1v2h-1z" fill="#b3b3b3"/>
<path d="M466 841h1v2h-1zM466 838h1v2h-1zM466 835h1v2h-1zM466 832h1v2h-1zM466 829h1v2h-1zM466 826h1v2h-1zM466 823h1v2h-1zM466 820h1v2h-1zM466 817h1v2h-1zM466 814h1v2h-1zM466 811h1v2h-1zM466 808h1v2h-1zM466 805h1v2h-1zM466 802h1v2h-1zM466 799h1v2h-1zM466 796h1v2h-1zM466 793h1v2h-1zM466 790h1v2h-1zM466 787h1v2h-1zM466 784h1v2h-1zM466 781h1v2h-1zM466 778h1v2h-1zM466 775h1v2h-1zM466 772h1v2h-1zM466 769h1v2h-1zM466 766h1v2h-1zM466 763h1v2h-1zM466 760h1v2h-1zM466 757h1v2h-1zM466 754h1v2h-1zM466 751h1v2h-1zM466 748h1v2h-1zM466 745h1v2h-1zM466 742h1v2h-1zM466 739h1v2h-1zM466 736h1v2h-1zM466 733h1v2h-1zM466 730h1v2h-1zM466 727h1v2h-1zM466 724h1v2h-1zM466 721h1v2h-1zM466 718h1v2h-1zM466 715h1v2h-1zM466 712h1v2h-1zM466 709h1v2h-1zM466 706h1v2h-1zM466 703h1v2h-1zM466 700h1v2h-1zM466 697h1v2h-1zM466 694h1v2h-1zM466 691h1v2h-1zM466 688h1v2h-1zM466 685h1v2h-1zM466 682h1v2h-1zM466 679h1v2h-1zM466 676h1v2h-1zM466 673h1v2h-1zM466 670h1v2h-1zM466 667h1v2h-1zM466 664h1v2h-1zM466 661h1v2h-1zM466 658h1v2h-1zM466 655h1v2h-1zM466 652h1v2h-1zM466 649h1v2h-1zM466 646h1v2h-1zM466 643h1v2h-1zM466 640h1v2h-1zM466 637h1v2h-1zM466 634h1v2h-1zM466 631h1v2h-1zM466 628h1v2h-1zM466 625h1v2h-1zM466 622h1v2h-1zM466 619h1v2h-1zM466 616h1v2h-1zM466 613h1v2h-1zM466 610h1v2h-1zM466 607h1v2h-1zM466 604h1v2h-1zM466 601h1v2h-1zM466 598h1v2h-1zM466 595h1v2h-1zM466 592h1v2h-1zM466 589h1v2h-1zM466 586h1v2h-1zM466 583h1v2h-1zM466 580h1v2h-1zM466 577h1v2h-1zM466 574h1v2h-1zM466 571h1v2h-1zM466 568h1v2h-1zM466 565h1v2h-1zM466 562h1v2h-1zM466 559h1v2h-1zM466 556h1v2h-1zM466 553h1v2h-1zM466 550h1v2h-1zM466 547h1v2h-1zM466 544h1v2h-1zM466 541h1v2h-1zM466 538h1v2h-1zM466 535h1v2h-1zM466 532h1v2h-1zM466 529h1v2h-1zM466 526h1v2h-1zM466 523h1v2h-1zM466 520h1v2h-1zM466 517h1v2h-1zM466 514h1v2h-1zM466 511h1v2h-1zM466 508h1v2h-1z" fill="#b3b3b3"/>
<path d="M534 841h1v2h-1zM534 838h1v2h-1zM534 835h1v2h-1zM534 832h1v2h-1zM534 829h1v2h-1zM534 826h1v2h-1zM534 823h1v2h-1zM534 820h1v2h-1zM534 817h1v2h-1zM534 814h1v2h-1zM534 811h1v2h-1zM534 808h1v2h-1zM534 805h1v2h-1zM534 802h1v2h-1zM534 799h1v2h-1zM534 796h1v2h-1zM534 793h1v2h-1zM534 790h1v2h-1zM534 787h1v2h-1zM534 784h1v2h-1zM534 781h1v2h-1zM534 778h1v2h-1zM534 775h1v2h-1zM534 772h1v2h-1zM534 769h1v2h-1zM534 766h1v2h-1zM534 763h1v2h-1zM534 760h1v2h-1zM534 757h1v2h-1zM534 754h1v2h-1zM534 751h1v2h-1zM534 748h1v2h-1zM534 745h1v2h-1zM534 742h1v2h-1zM534 739h1v2h-1zM534 736h1v2h-1zM534 733h1v2h-1zM534 730h1v2h-1zM534 727h1v2h-1zM534 724h1v2h-1zM534 721h1v2h-1zM534 718h1v2h-1zM534 715h1v2h-1zM534 712h1v2h-1zM534 709h1v2h-1zM534 706h1v2h-1zM534 703h1v2h-1zM534 700h1v2h-1zM534 697h1v2h-1zM534 694h1v2h-1zM534 691h1v2h-1zM534 688h1v2h-1zM534 685h1v2h-1zM534 682h1v2h-1zM534 679h1v2h-1zM534 676h1v2h-1zM534 673h1v2h-1zM534 670h1v2h-1zM534 667h1v2h-1zM534 664h1v2h-1zM534 661h1v2h-1zM534 658h1v2h-1zM534 655h1v2h-1zM534 652h1v2h-1zM534 649h1v2h-1zM534 646h1v2h-1zM534 643h1v2h-1zM534 640h1v2h-1zM534 637h1v2h-1zM534 634h1v2h-1zM534 631h1v2h-1zM534 628h1v2h-1zM534 625h1v2h-1zM534 622h1v2h-1zM534 619h1v2h-1zM534 616h1v2h-1zM534 613h1v2h-1zM534 610h1v2h-1zM534 607h1v2h-1zM534 604h1v2h-1zM534 601h1v2h-1zM534 598h1v2h-1zM534 595h1v2h-1zM534 592h1v2h-1zM534 589h1v2h-1zM534 586h1v2h-1zM534 583h1v2h-1zM534 580h1v2h-1zM534 577h1v2h-1zM534 574h1v2h-1zM534 571h1v2h-1zM534 568h1v2h-1zM534 565h1v2h-1zM534 562h1v2h-1zM534 559h1v2h-1zM534 556h1v2h-1zM534 553h1v2h-1zM534 550h1v2h-1zM534 547h1v2h-1zM534 544h1v2h-1zM534 541h1v2h-1zM534 538h1v2h-1zM534 535h1v2h-1zM534 532h1v2h-1zM534 529h1v2h-1zM534 526h1v2h-1zM534 523h1v2h-1zM534 520h1v2h-1zM534 517h1v2h-1zM534 514h1v2h-1zM534 511h1v2h-1zM534 508h1v2h-1z" fill="#b3b3b3"/>
<rect x="57" y="830" width="137" height="12" fill="#ff4500"/>
<rect x="194" y="830" width="27" height="12" fill="#ffa500"/>
<rect x="221" y="830" width="21" height="12" fill="#ffd700"/>
<rect x="242" y="830" width="33" height="12" fill="#ffff00"/>
<rect x="276" y="830" width="108" height="11" fill="#e8e8e8"/>
<rect x="384" y="830" width="34" height="12" fill="#bfefff"/>
<rect x="418" y="830" width="21" height="12" fill="#87cefa"/>
<rect x="439" y="830" width="27" height="12" fill="#4f94cd"/>
<rect x="466" y="830" width="68" height="12" fill="#3a5fcd"/>
<rect x="57" y="810" width="167" height="2" fill="#ff0000"/>
<rect x="222" y="810" width="2" height="21" fill="#ff0000"/>
<rect x="57.5" y="507.5" width="166" height="144" fill="#fff" stroke="#000" stroke-width="1"/>
<rect x="66" y="520" width="5" height="5" fill="#ff4500"/>
<rect x="68" y="519" width="1" height="1" fill="#ff4500"/>
<rect x="65" y="522" width="1" height="1" fill="#ff4500"/>
<text transform="translate(79.00,526) scale(0.82,1)" font-size="13.1" letter-spacing="1.159">Excepcionalmente seco</text>
<rect x="66" y="534" width="5" height="5" fill="#ffa500"/>
<rect x="68" y="533" width="1" height="1" fill="#ffa500"/>
<rect x="65" y="536" width="1" height="1" fill="#ffa500"/>
<text transform="translate(79.00,540) scale(0.82,1)" font-size="13.1" letter-spacing="1.220">Severamente seco</text>
<rect x="66" y="549" width="5" height="5" fill="#ffd700"/>
<rect x="68" y="548" width="1" height="1" fill="#ffd700"/>
<rect x="65" y="551" width="1" height="1" fill="#ffd700"/>
<text transform="translate(79.00,555) scale(0.82,1)" font-size="13.1" letter-spacing="1.355">Muito seco</text>
<rect x="66" y="563" width="5" height="5" fill="#ffff00"/>
<rect x="68" y="562" width="1" height="1" fill="#ffff00"/>
<rect x="65" y="565" width="1" height="1" fill="#ffff00"/>
<text transform="translate(79.00,569) scale(0.82,1)" font-size="13.1" letter-spacing="1.220">Moderadamente seco</text>
<rect x="66" y="577" width="5" height="5" fill="#e8e8e8"/>
<rect x="68" y="576" width="1" height="1" fill="#e8e8e8"/>
<rect x="65" y="579" width="1" height="1" fill="#e8e8e8"/>
<text transform="translate(79.00,583) scale(0.82,1)" font-size="13.1" letter-spacing="0.894">Próximo à normal</text>
<rect x="66" y="592" width="5" height="5" fill="#bfefff"/>
<rect x="68" y="591" width="1" height="1" fill="#bfefff"/>
<rect x="65" y="594" width="1" height="1" fill="#bfefff"/>
<text transform="translate(79.00,598) scale(0.82,1)" font-size="13.1" letter-spacing="1.084">Moderadamente úmido</text>
<rect x="66" y="606" width="5" height="5" fill="#87cefa"/>
<rect x="68" y="605" width="1" height="1" fill="#87cefa"/>
<rect x="65" y="608" width="1" height="1" fill="#87cefa"/>
<text transform="translate(79.00,612) scale(0.82,1)" font-size="13.1" letter-spacing="1.220">Muito úmido</text>
<rect x="66" y="621" width="5" height="5" fill="#4f94cd"/>
<rect x="68" y="620" width="1" height="1" fill="#4f94cd"/>
<rect x="65" y="623" width="1" height="1" fill="#4f94cd"/>
<text transform="translate(79.00,627) scale(0.82,1)" font-size="13.1" letter-spacing="0.991">Severamente úmido</text>
<rect x="66" y="635" width="5" height="5" fill="#3a5fcd"/>
<rect x="68" y="634" width="1" height="1" fill="#3a5fcd"/>
<rect x="65" y="637" width="1" height="1" fill="#3a5fcd"/>
<text transform="translate(79.00,641) scale(0.82,1)" font-size="13.1" letter-spacing="1.045">Excepcionalmente úmido</text>
<rect x="533.5" y="507.5" width="106" height="55" fill="#fff" stroke="#000" stroke-width="1"/>
<rect x="541" y="527" width="22" height="2" fill="#000"/>
<rect x="541" y="548" width="22" height="2" fill="#ff0000"/>
<text transform="translate(573.00,526) scale(0.82,1)" font-size="11.6" letter-spacing="0.610">Curva</text>
<text transform="translate(571.00,539) scale(0.82,1)" font-size="11.6" letter-spacing="0.732">normal</text>
<text transform="translate(572.00,553) scale(0.82,1)" font-size="11.6" letter-spacing="0.776">SPI-18: 2003</text>
<rect x="47" y="830" width="10" height="1" fill="#000"/>
<text transform="translate(27.00,834) scale(0.82,1)" font-size="12.7" letter-spacing="0.610">0.0</text>
<rect x="47" y="768" width="10" height="1" fill="#000"/>
<text transform="translate(27.00,772) scale(0.82,1)" font-size="12.7" letter-spacing="0.610">0.2</text>
<rect x="47" y="706" width="10" height="1" fill="#000"/>
<text transform="translate(27.00,710) scale(0.82,1)" font-size="12.7" letter-spacing="0.610">0.4</text>
<rect x="47" y="644" width="10" height="1" fill="#000"/>
<text transform="translate(27.00,648) scale(0.82,1)" font-size="12.7" letter-spacing="0.610">0.6</text>
<rect x="47" y="582" width="10" height="1" fill="#000"/>
<text transform="translate(27.00,586) scale(0.82,1)" font-size="12.7" letter-spacing="0.610">0.8</text>
<rect x="47" y="520" width="10" height="1" fill="#000"/>
<text transform="translate(26.00,524) scale(0.82,1)" font-size="12.7" letter-spacing="1.220">1.0</text>
<rect x="57" y="842" width="1" height="8" fill="#000"/>
<text transform="translate(50.00,868) scale(0.82,1)" font-size="15.5" letter-spacing="2.439">-4</text>
<rect x="125" y="842" width="1" height="8" fill="#000"/>
<text transform="translate(118.00,868) scale(0.82,1)" font-size="15.5" letter-spacing="1.220">-3</text>
<rect x="193" y="842" width="1" height="8" fill="#000"/>
<text transform="translate(186.00,868) scale(0.82,1)" font-size="15.5" letter-spacing="1.220">-2</text>
<rect x="262" y="842" width="1" height="8" fill="#000"/>
<text transform="translate(255.00,868) scale(0.82,1)" font-size="15.5" letter-spacing="-1.220">-1</text>
<rect x="330" y="842" width="1" height="8" fill="#000"/>
<text transform="translate(326.50,868) scale(0.82,1)" font-size="15.5" letter-spacing="-1.220">0</text>
<rect x="398" y="842" width="1" height="8" fill="#000"/>
<text transform="translate(393.50,868) scale(0.82,1)" font-size="15.5" letter-spacing="-3.659">1</text>
<rect x="466" y="842" width="1" height="8" fill="#000"/>
<text transform="translate(462.00,868) scale(0.82,1)" font-size="15.5">2</text>
<rect x="534" y="842" width="1" height="8" fill="#000"/>
<text transform="translate(530.00,868) scale(0.82,1)" font-size="15.5">3</text>
<text transform="translate(285.00,897) scale(0.82,1)" font-size="16" letter-spacing="0.610">SPI</text>
<text transform="translate(407.00,889) scale(0.82,1)" font-size="13.1" letter-spacing="0.899">(Produto:CPTEC/INPE)</text>
<text transform="translate(11,754.00) rotate(-90) scale(0.82,1)" font-size="16" letter-spacing="0.499">Probabilidade acumulada</text>
<text transform="translate(21.00,817)" font-size="16.3" font-weight="bold" fill="#6a6a6a" style="font-family:&quot;Liberation Serif&quot;,&quot;Times New Roman&quot;,serif">0.06</text>
<text transform="translate(178.00,841) scale(0.95,1)" font-size="14.5" font-weight="bold" letter-spacing="0.405">SPI-18 = -1.56</text>
</svg>
</body></html>
